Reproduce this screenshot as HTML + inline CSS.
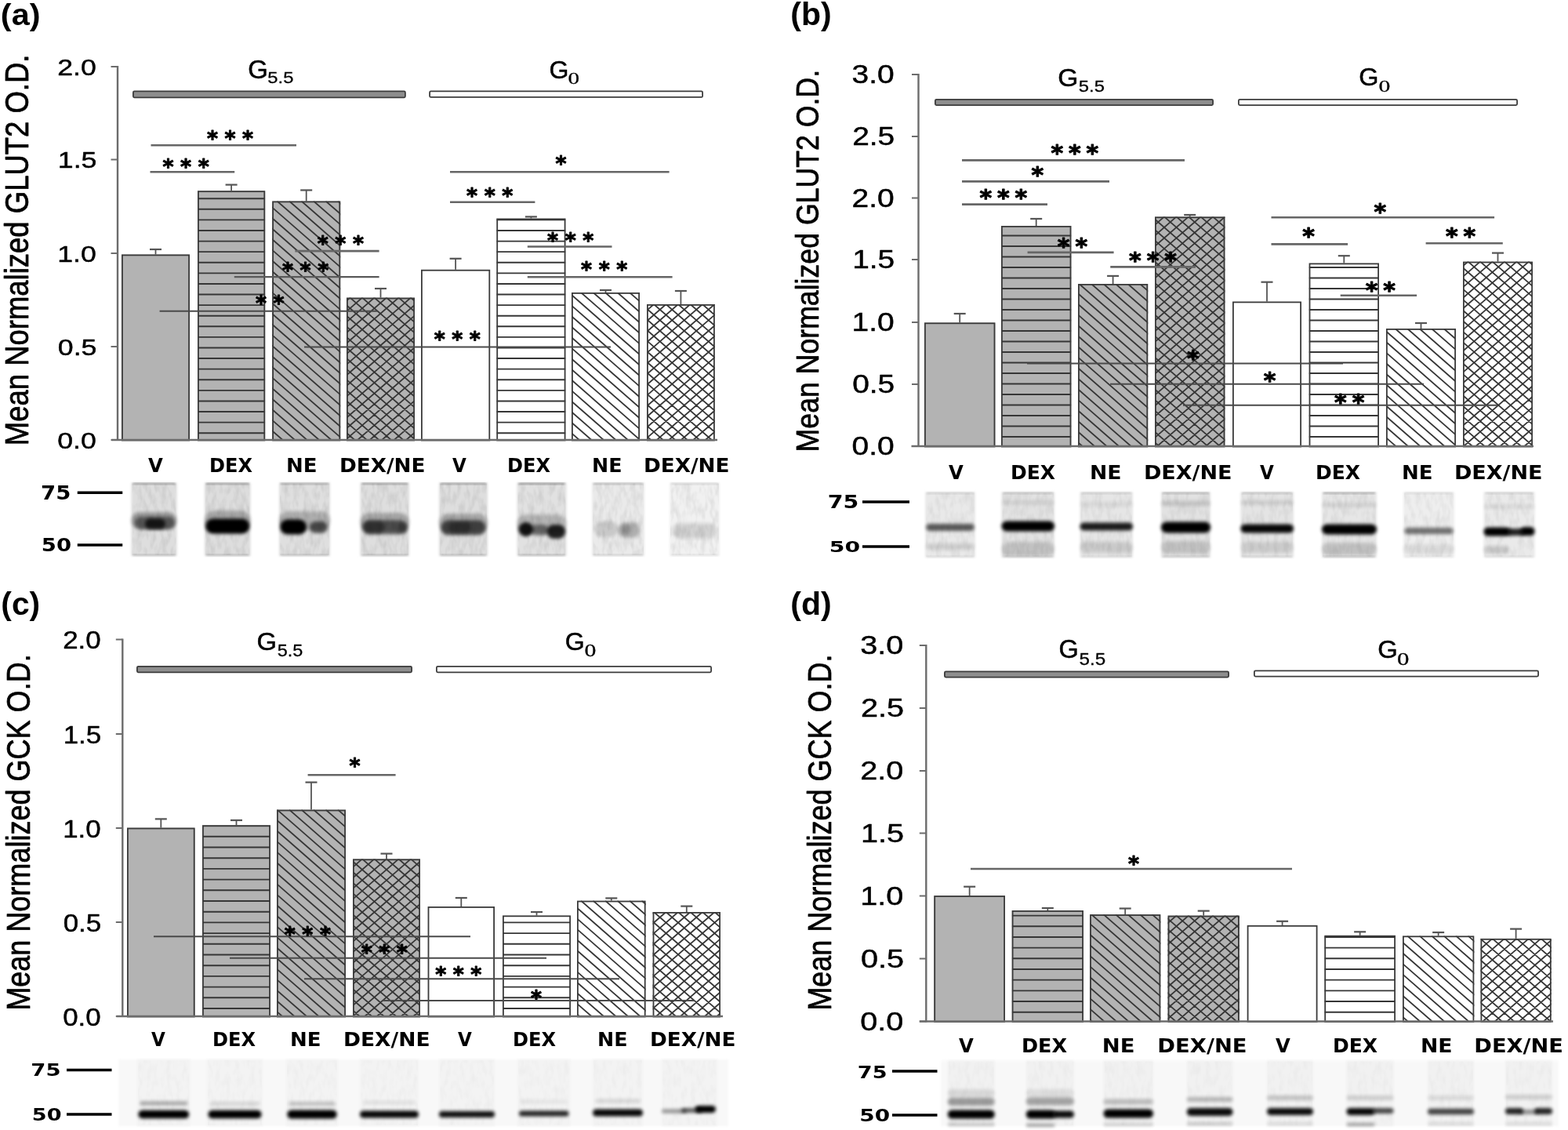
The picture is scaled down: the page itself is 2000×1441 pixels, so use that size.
<!DOCTYPE html>
<html><head><meta charset="utf-8"><title>GLUT2 and GCK expression</title><style>html,body{margin:0;padding:0;background:#fff;overflow:hidden}svg{display:block}</style></head><body>
<svg width="2000" height="1441" viewBox="0 0 2000 1441">
<defs>
<filter id="soft" x="-20%" y="-20%" width="140%" height="140%"><feGaussianBlur stdDeviation="1.6"/></filter>
<filter id="band" x="-50%" y="-100%" width="200%" height="300%"><feGaussianBlur stdDeviation="2.0 2.2"/></filter>
<filter id="noise" x="0" y="0" width="100%" height="100%"><feTurbulence type="fractalNoise" baseFrequency="0.16 0.07" numOctaves="2" seed="3"/><feColorMatrix type="matrix" values="0 0 0 0 0  0 0 0 0 0  0 0 0 0 0  0 0 0 -2.2 1.4"/><feComposite in2="SourceGraphic" operator="in"/></filter>
<clipPath id="c0"><rect x="252.00" y="243.30" width="86.20" height="317.70"/></clipPath>
<clipPath id="c1"><rect x="347.20" y="256.50" width="87.00" height="304.50"/></clipPath>
<clipPath id="c2"><rect x="442.00" y="379.60" width="87.00" height="181.40"/></clipPath>
<clipPath id="c3"><rect x="633.30" y="278.50" width="88.20" height="282.50"/></clipPath>
<clipPath id="c4"><rect x="729.00" y="373.00" width="87.00" height="188.00"/></clipPath>
<clipPath id="c5"><rect x="825.00" y="388.00" width="86.80" height="173.00"/></clipPath>
<clipPath id="c6"><rect x="1277.00" y="288.00" width="89.40" height="281.00"/></clipPath>
<clipPath id="c7"><rect x="1375.00" y="362.00" width="89.20" height="207.00"/></clipPath>
<clipPath id="c8"><rect x="1473.00" y="276.40" width="89.40" height="292.60"/></clipPath>
<clipPath id="c9"><rect x="1669.60" y="335.50" width="89.40" height="233.50"/></clipPath>
<clipPath id="c10"><rect x="1768.00" y="419.00" width="89.00" height="150.00"/></clipPath>
<clipPath id="c11"><rect x="1866.00" y="333.60" width="89.00" height="235.40"/></clipPath>
<clipPath id="c12"><rect x="258.00" y="1052.40" width="87.00" height="243.60"/></clipPath>
<clipPath id="c13"><rect x="353.00" y="1032.60" width="88.00" height="263.40"/></clipPath>
<clipPath id="c14"><rect x="450.00" y="1095.40" width="86.00" height="200.60"/></clipPath>
<clipPath id="c15"><rect x="641.00" y="1167.40" width="87.00" height="128.60"/></clipPath>
<clipPath id="c16"><rect x="736.00" y="1148.60" width="87.60" height="147.40"/></clipPath>
<clipPath id="c17"><rect x="832.60" y="1163.00" width="86.40" height="133.00"/></clipPath>
<clipPath id="c18"><rect x="1290.70" y="1161.00" width="91.30" height="141.50"/></clipPath>
<clipPath id="c19"><rect x="1390.10" y="1166.10" width="90.20" height="136.40"/></clipPath>
<clipPath id="c20"><rect x="1489.60" y="1167.60" width="91.20" height="134.90"/></clipPath>
<clipPath id="c21"><rect x="1689.30" y="1192.80" width="90.70" height="109.70"/></clipPath>
<clipPath id="c22"><rect x="1789.00" y="1193.40" width="91.30" height="109.10"/></clipPath>
<clipPath id="c23"><rect x="1888.50" y="1196.90" width="90.20" height="105.60"/></clipPath>
</defs>
<rect width="2000" height="1441" fill="#fff"/>
<rect x="167.50" y="615.50" width="58.00" height="93.50" fill="#dedede" filter="url(#soft)"/>
<rect x="168.50" y="616.50" width="56.00" height="91.50" fill="#000" opacity="0.07" filter="url(#noise)"/>
<rect x="169.50" y="615.50" width="54.00" height="2.2" fill="#000" opacity="0.35" filter="url(#soft)"/>
<rect x="169.50" y="706.80" width="54.00" height="2" fill="#000" opacity="0.21" filter="url(#soft)"/>
<rect x="167.50" y="653.00" width="58.00" height="22.00" rx="11.00" fill="#000" opacity="0.3" filter="url(#band)"/>
<rect x="172.14" y="659.00" width="50.46" height="16.00" rx="8.00" fill="#000" opacity="0.45" filter="url(#band)"/>
<rect x="184.90" y="661.50" width="26.10" height="13.00" rx="6.50" fill="#000" opacity="0.75" filter="url(#band)"/>
<rect x="261.00" y="615.50" width="58.50" height="93.50" fill="#dddddd" filter="url(#soft)"/>
<rect x="262.00" y="616.50" width="56.50" height="91.50" fill="#000" opacity="0.07" filter="url(#noise)"/>
<rect x="263.00" y="615.50" width="54.50" height="2.2" fill="#000" opacity="0.35" filter="url(#soft)"/>
<rect x="263.00" y="706.80" width="54.50" height="2" fill="#000" opacity="0.21" filter="url(#soft)"/>
<rect x="261.00" y="651.00" width="58.50" height="26.00" rx="13.00" fill="#000" opacity="0.25" filter="url(#band)"/>
<rect x="262.17" y="661.50" width="56.16" height="19.00" rx="9.50" fill="#000" opacity="1.0" filter="url(#band)"/>
<rect x="356.00" y="615.50" width="65.00" height="93.50" fill="#dfdfdf" filter="url(#soft)"/>
<rect x="357.00" y="616.50" width="63.00" height="91.50" fill="#000" opacity="0.07" filter="url(#noise)"/>
<rect x="358.00" y="615.50" width="61.00" height="2.2" fill="#000" opacity="0.3" filter="url(#soft)"/>
<rect x="358.00" y="706.80" width="61.00" height="2" fill="#000" opacity="0.18" filter="url(#soft)"/>
<rect x="356.00" y="652.00" width="65.00" height="24.00" rx="12.00" fill="#000" opacity="0.22" filter="url(#band)"/>
<rect x="357.30" y="662.50" width="33.80" height="19.00" rx="9.50" fill="#000" opacity="1.0" filter="url(#band)"/>
<rect x="395.00" y="665.00" width="22.75" height="15.00" rx="7.50" fill="#000" opacity="0.6" filter="url(#band)"/>
<rect x="459.50" y="615.50" width="62.50" height="93.50" fill="#dedede" filter="url(#soft)"/>
<rect x="460.50" y="616.50" width="60.50" height="91.50" fill="#000" opacity="0.07" filter="url(#noise)"/>
<rect x="461.50" y="615.50" width="58.50" height="2.2" fill="#000" opacity="0.35" filter="url(#soft)"/>
<rect x="461.50" y="706.80" width="58.50" height="2" fill="#000" opacity="0.21" filter="url(#soft)"/>
<rect x="459.50" y="654.00" width="62.50" height="24.00" rx="12.00" fill="#000" opacity="0.25" filter="url(#band)"/>
<rect x="462.00" y="663.50" width="57.50" height="18.00" rx="9.00" fill="#000" opacity="0.55" filter="url(#band)"/>
<rect x="463.25" y="664.00" width="27.50" height="16.00" rx="8.00" fill="#000" opacity="0.35" filter="url(#band)"/>
<rect x="508.25" y="666.00" width="11.25" height="14.00" rx="5.62" fill="#000" opacity="0.25" filter="url(#band)"/>
<rect x="560.00" y="615.50" width="62.00" height="93.50" fill="#dedede" filter="url(#soft)"/>
<rect x="561.00" y="616.50" width="60.00" height="91.50" fill="#000" opacity="0.07" filter="url(#noise)"/>
<rect x="562.00" y="615.50" width="58.00" height="2.2" fill="#000" opacity="0.35" filter="url(#soft)"/>
<rect x="562.00" y="706.80" width="58.00" height="2" fill="#000" opacity="0.21" filter="url(#soft)"/>
<rect x="560.00" y="655.00" width="62.00" height="24.00" rx="12.00" fill="#000" opacity="0.25" filter="url(#band)"/>
<rect x="562.48" y="663.50" width="57.04" height="19.00" rx="9.50" fill="#000" opacity="0.62" filter="url(#band)"/>
<rect x="572.40" y="666.00" width="27.90" height="14.00" rx="7.00" fill="#000" opacity="0.3" filter="url(#band)"/>
<rect x="659.50" y="615.50" width="63.00" height="93.50" fill="#e1e1e1" filter="url(#soft)"/>
<rect x="660.50" y="616.50" width="61.00" height="91.50" fill="#000" opacity="0.07" filter="url(#noise)"/>
<rect x="661.50" y="615.50" width="59.00" height="2.2" fill="#000" opacity="0.4" filter="url(#soft)"/>
<rect x="661.50" y="706.80" width="59.00" height="2" fill="#000" opacity="0.24" filter="url(#soft)"/>
<rect x="659.50" y="656.00" width="63.00" height="24.00" rx="12.00" fill="#000" opacity="0.2" filter="url(#band)"/>
<rect x="661.39" y="666.00" width="18.90" height="18.00" rx="9.00" fill="#000" opacity="0.9" filter="url(#band)"/>
<rect x="677.14" y="669.00" width="22.68" height="14.00" rx="7.00" fill="#000" opacity="0.45" filter="url(#band)"/>
<rect x="697.30" y="669.00" width="23.94" height="18.00" rx="9.00" fill="#000" opacity="0.85" filter="url(#band)"/>
<rect x="755.00" y="615.50" width="67.00" height="93.50" fill="#eaeaea" filter="url(#soft)"/>
<rect x="756.00" y="616.50" width="65.00" height="91.50" fill="#000" opacity="0.07" filter="url(#noise)"/>
<rect x="757.00" y="615.50" width="63.00" height="2.2" fill="#000" opacity="0.25" filter="url(#soft)"/>
<rect x="757.00" y="706.80" width="63.00" height="2" fill="#000" opacity="0.15" filter="url(#soft)"/>
<rect x="758.35" y="665.00" width="30.15" height="20.00" rx="10.00" fill="#000" opacity="0.14" filter="url(#band)"/>
<rect x="788.50" y="666.00" width="28.14" height="20.00" rx="10.00" fill="#000" opacity="0.25" filter="url(#band)"/>
<rect x="791.85" y="669.00" width="13.40" height="12.00" rx="6.00" fill="#000" opacity="0.18" filter="url(#band)"/>
<rect x="854.00" y="615.50" width="64.00" height="93.50" fill="#f1f1f1" filter="url(#soft)"/>
<rect x="855.00" y="616.50" width="62.00" height="91.50" fill="#000" opacity="0.07" filter="url(#noise)"/>
<rect x="856.00" y="615.50" width="60.00" height="2.2" fill="#000" opacity="0.15" filter="url(#soft)"/>
<rect x="856.00" y="706.80" width="60.00" height="2" fill="#000" opacity="0.09" filter="url(#soft)"/>
<rect x="857.20" y="667.00" width="57.60" height="20.00" rx="10.00" fill="#000" opacity="0.12" filter="url(#band)"/>
<rect x="1180.00" y="627.50" width="64.00" height="83.50" fill="#e9e9e9" filter="url(#soft)"/>
<rect x="1181.00" y="628.50" width="62.00" height="81.50" fill="#000" opacity="0.05" filter="url(#noise)"/>
<rect x="1182.00" y="627.50" width="60.00" height="2.2" fill="#000" opacity="0.15" filter="url(#soft)"/>
<rect x="1182.00" y="708.80" width="60.00" height="2" fill="#000" opacity="0.09" filter="url(#soft)"/>
<rect x="1181.28" y="668.00" width="61.44" height="9.00" rx="4.50" fill="#000" opacity="0.62" filter="url(#band)"/>
<rect x="1181.28" y="693.00" width="61.44" height="8.00" rx="4.00" fill="#000" opacity="0.12" filter="url(#band)"/>
<rect x="1277.50" y="627.50" width="67.50" height="83.50" fill="#e2e2e2" filter="url(#soft)"/>
<rect x="1278.50" y="628.50" width="65.50" height="81.50" fill="#000" opacity="0.05" filter="url(#noise)"/>
<rect x="1279.50" y="627.50" width="63.50" height="2.2" fill="#000" opacity="0.2" filter="url(#soft)"/>
<rect x="1279.50" y="708.80" width="63.50" height="2" fill="#000" opacity="0.12" filter="url(#soft)"/>
<rect x="1277.50" y="664.50" width="67.50" height="13.00" rx="6.50" fill="#000" opacity="1.0" filter="url(#band)"/>
<rect x="1277.50" y="691.00" width="67.50" height="18.00" rx="9.00" fill="#000" opacity="0.14" filter="url(#band)"/>
<rect x="1277.50" y="638.00" width="67.50" height="6.00" rx="3.00" fill="#000" opacity="0.07" filter="url(#band)"/>
<rect x="1377.50" y="627.50" width="67.50" height="83.50" fill="#e6e6e6" filter="url(#soft)"/>
<rect x="1378.50" y="628.50" width="65.50" height="81.50" fill="#000" opacity="0.05" filter="url(#noise)"/>
<rect x="1379.50" y="627.50" width="63.50" height="2.2" fill="#000" opacity="0.15" filter="url(#soft)"/>
<rect x="1379.50" y="708.80" width="63.50" height="2" fill="#000" opacity="0.09" filter="url(#soft)"/>
<rect x="1377.50" y="666.50" width="67.50" height="10.00" rx="5.00" fill="#000" opacity="0.88" filter="url(#band)"/>
<rect x="1377.50" y="691.00" width="67.50" height="14.00" rx="7.00" fill="#000" opacity="0.12" filter="url(#band)"/>
<rect x="1377.50" y="640.00" width="67.50" height="6.00" rx="3.00" fill="#000" opacity="0.06" filter="url(#band)"/>
<rect x="1481.00" y="627.50" width="63.00" height="83.50" fill="#e2e2e2" filter="url(#soft)"/>
<rect x="1482.00" y="628.50" width="61.00" height="81.50" fill="#000" opacity="0.05" filter="url(#noise)"/>
<rect x="1483.00" y="627.50" width="59.00" height="2.2" fill="#000" opacity="0.25" filter="url(#soft)"/>
<rect x="1483.00" y="708.80" width="59.00" height="2" fill="#000" opacity="0.15" filter="url(#soft)"/>
<rect x="1481.00" y="665.50" width="63.00" height="14.00" rx="7.00" fill="#000" opacity="1.0" filter="url(#band)"/>
<rect x="1481.00" y="638.50" width="63.00" height="7.00" rx="3.50" fill="#000" opacity="0.13" filter="url(#band)"/>
<rect x="1481.00" y="690.00" width="63.00" height="16.00" rx="8.00" fill="#000" opacity="0.14" filter="url(#band)"/>
<rect x="1582.50" y="627.50" width="67.50" height="83.50" fill="#e4e4e4" filter="url(#soft)"/>
<rect x="1583.50" y="628.50" width="65.50" height="81.50" fill="#000" opacity="0.05" filter="url(#noise)"/>
<rect x="1584.50" y="627.50" width="63.50" height="2.2" fill="#000" opacity="0.2" filter="url(#soft)"/>
<rect x="1584.50" y="708.80" width="63.50" height="2" fill="#000" opacity="0.12" filter="url(#soft)"/>
<rect x="1582.50" y="668.50" width="67.50" height="11.00" rx="5.50" fill="#000" opacity="0.97" filter="url(#band)"/>
<rect x="1582.50" y="638.00" width="67.50" height="6.00" rx="3.00" fill="#000" opacity="0.1" filter="url(#band)"/>
<rect x="1582.50" y="691.00" width="67.50" height="14.00" rx="7.00" fill="#000" opacity="0.1" filter="url(#band)"/>
<rect x="1686.00" y="627.50" width="70.00" height="83.50" fill="#e6e6e6" filter="url(#soft)"/>
<rect x="1687.00" y="628.50" width="68.00" height="81.50" fill="#000" opacity="0.05" filter="url(#noise)"/>
<rect x="1688.00" y="627.50" width="66.00" height="2.2" fill="#000" opacity="0.3" filter="url(#soft)"/>
<rect x="1688.00" y="708.80" width="66.00" height="2" fill="#000" opacity="0.18" filter="url(#soft)"/>
<rect x="1686.00" y="668.50" width="70.00" height="13.00" rx="6.50" fill="#000" opacity="1.0" filter="url(#band)"/>
<rect x="1686.00" y="641.00" width="70.00" height="6.00" rx="3.00" fill="#000" opacity="0.09" filter="url(#band)"/>
<rect x="1686.00" y="692.00" width="70.00" height="16.00" rx="8.00" fill="#000" opacity="0.16" filter="url(#band)"/>
<rect x="1790.00" y="627.50" width="65.00" height="83.50" fill="#eeeeee" filter="url(#soft)"/>
<rect x="1791.00" y="628.50" width="63.00" height="81.50" fill="#000" opacity="0.05" filter="url(#noise)"/>
<rect x="1792.00" y="627.50" width="61.00" height="2.2" fill="#000" opacity="0.1" filter="url(#soft)"/>
<rect x="1792.00" y="708.80" width="61.00" height="2" fill="#000" opacity="0.06" filter="url(#soft)"/>
<rect x="1791.30" y="672.70" width="62.40" height="8.60" rx="4.30" fill="#000" opacity="0.52" filter="url(#band)"/>
<rect x="1790.00" y="694.00" width="65.00" height="12.00" rx="6.00" fill="#000" opacity="0.08" filter="url(#band)"/>
<rect x="1892.50" y="627.50" width="65.00" height="83.50" fill="#eaeaea" filter="url(#soft)"/>
<rect x="1893.50" y="628.50" width="63.00" height="81.50" fill="#000" opacity="0.05" filter="url(#noise)"/>
<rect x="1894.50" y="627.50" width="61.00" height="2.2" fill="#000" opacity="0.15" filter="url(#soft)"/>
<rect x="1894.50" y="708.80" width="61.00" height="2" fill="#000" opacity="0.09" filter="url(#soft)"/>
<rect x="1892.50" y="672.50" width="33.80" height="11.00" rx="5.50" fill="#000" opacity="1.0" filter="url(#band)"/>
<rect x="1921.75" y="674.00" width="22.75" height="9.00" rx="4.50" fill="#000" opacity="0.85" filter="url(#band)"/>
<rect x="1939.30" y="672.00" width="18.20" height="11.00" rx="5.50" fill="#000" opacity="1.0" filter="url(#band)"/>
<rect x="1892.50" y="643.00" width="65.00" height="6.00" rx="3.00" fill="#000" opacity="0.07" filter="url(#band)"/>
<rect x="1892.50" y="696.00" width="32.50" height="10.00" rx="5.00" fill="#000" opacity="0.14" filter="url(#band)"/>
<rect x="151" y="1351" width="778" height="85" fill="#f8f8f8" filter="url(#soft)"/>
<rect x="175.00" y="1351.00" width="67.50" height="85.00" fill="#f3f3f3" filter="url(#soft)"/>
<rect x="176.00" y="1352.00" width="65.50" height="83.00" fill="#000" opacity="0.02" filter="url(#noise)"/>
<rect x="176.35" y="1415.70" width="64.80" height="10.60" rx="5.30" fill="#000" opacity="1.0" filter="url(#band)"/>
<rect x="178.38" y="1404.50" width="60.75" height="5.00" rx="2.50" fill="#000" opacity="0.32" filter="url(#band)"/>
<rect x="264.00" y="1351.00" width="71.00" height="85.00" fill="#f3f3f3" filter="url(#soft)"/>
<rect x="265.00" y="1352.00" width="69.00" height="83.00" fill="#000" opacity="0.02" filter="url(#noise)"/>
<rect x="265.42" y="1415.70" width="68.16" height="10.60" rx="5.30" fill="#000" opacity="1.0" filter="url(#band)"/>
<rect x="267.55" y="1405.00" width="63.90" height="5.00" rx="2.50" fill="#000" opacity="0.12" filter="url(#band)"/>
<rect x="365.00" y="1351.00" width="66.00" height="85.00" fill="#f3f3f3" filter="url(#soft)"/>
<rect x="366.00" y="1352.00" width="64.00" height="83.00" fill="#000" opacity="0.02" filter="url(#noise)"/>
<rect x="366.32" y="1415.50" width="63.36" height="11.00" rx="5.50" fill="#000" opacity="1.0" filter="url(#band)"/>
<rect x="368.30" y="1405.00" width="59.40" height="5.00" rx="2.50" fill="#000" opacity="0.22" filter="url(#band)"/>
<rect x="459.00" y="1351.00" width="75.00" height="85.00" fill="#f3f3f3" filter="url(#soft)"/>
<rect x="460.00" y="1352.00" width="73.00" height="83.00" fill="#000" opacity="0.02" filter="url(#noise)"/>
<rect x="459.00" y="1416.50" width="75.00" height="9.00" rx="4.50" fill="#000" opacity="0.97" filter="url(#band)"/>
<rect x="462.75" y="1403.50" width="67.50" height="5.00" rx="2.50" fill="#000" opacity="0.08" filter="url(#band)"/>
<rect x="560.00" y="1351.00" width="71.00" height="85.00" fill="#f3f3f3" filter="url(#soft)"/>
<rect x="561.00" y="1352.00" width="69.00" height="83.00" fill="#000" opacity="0.02" filter="url(#noise)"/>
<rect x="560.00" y="1417.00" width="71.00" height="8.00" rx="4.00" fill="#000" opacity="0.93" filter="url(#band)"/>
<rect x="660.00" y="1351.00" width="67.50" height="85.00" fill="#f3f3f3" filter="url(#soft)"/>
<rect x="661.00" y="1352.00" width="65.50" height="83.00" fill="#000" opacity="0.02" filter="url(#noise)"/>
<rect x="662.02" y="1416.50" width="63.45" height="7.00" rx="3.50" fill="#000" opacity="0.85" filter="url(#band)"/>
<rect x="663.38" y="1402.50" width="60.75" height="5.00" rx="2.50" fill="#000" opacity="0.06" filter="url(#band)"/>
<rect x="756.00" y="1351.00" width="64.00" height="85.00" fill="#f3f3f3" filter="url(#soft)"/>
<rect x="757.00" y="1352.00" width="62.00" height="83.00" fill="#000" opacity="0.02" filter="url(#noise)"/>
<rect x="756.00" y="1414.50" width="64.00" height="9.00" rx="4.50" fill="#000" opacity="0.97" filter="url(#band)"/>
<rect x="759.20" y="1401.50" width="57.60" height="5.00" rx="2.50" fill="#000" opacity="0.12" filter="url(#band)"/>
<rect x="844.00" y="1351.00" width="71.00" height="85.00" fill="#f3f3f3" filter="url(#soft)"/>
<rect x="845.00" y="1352.00" width="69.00" height="83.00" fill="#000" opacity="0.02" filter="url(#noise)"/>
<rect x="844.00" y="1414.50" width="31.95" height="5.00" rx="2.50" fill="#000" opacity="0.4" filter="url(#band)"/>
<rect x="868.85" y="1413.00" width="26.27" height="6.00" rx="3.00" fill="#000" opacity="0.6" filter="url(#band)"/>
<rect x="886.60" y="1410.00" width="26.27" height="9.00" rx="4.50" fill="#000" opacity="1.0" filter="url(#band)"/>
<rect x="1200" y="1352.5" width="788" height="83.5" fill="#f8f8f8" filter="url(#soft)"/>
<rect x="1208.75" y="1352.50" width="60.00" height="83.50" fill="#f1f1f1" filter="url(#soft)"/>
<rect x="1209.75" y="1353.50" width="58.00" height="81.50" fill="#000" opacity="0.02" filter="url(#noise)"/>
<rect x="1208.75" y="1415.50" width="60.00" height="11.00" rx="5.50" fill="#000" opacity="1.0" filter="url(#band)"/>
<rect x="1208.75" y="1400.00" width="60.00" height="10.00" rx="5.00" fill="#000" opacity="0.36" filter="url(#band)"/>
<rect x="1208.75" y="1432.00" width="60.00" height="4.00" rx="2.00" fill="#000" opacity="0.2" filter="url(#band)"/>
<rect x="1208.75" y="1389.00" width="60.00" height="10.00" rx="5.00" fill="#000" opacity="0.1" filter="url(#band)"/>
<rect x="1308.75" y="1352.50" width="61.25" height="83.50" fill="#f1f1f1" filter="url(#soft)"/>
<rect x="1309.75" y="1353.50" width="59.25" height="81.50" fill="#000" opacity="0.02" filter="url(#noise)"/>
<rect x="1308.75" y="1415.50" width="37.97" height="11.00" rx="5.50" fill="#000" opacity="1.0" filter="url(#band)"/>
<rect x="1342.44" y="1416.50" width="27.56" height="9.00" rx="4.50" fill="#000" opacity="0.95" filter="url(#band)"/>
<rect x="1308.75" y="1399.50" width="61.25" height="10.00" rx="5.00" fill="#000" opacity="0.32" filter="url(#band)"/>
<rect x="1308.75" y="1433.00" width="36.75" height="4.00" rx="2.00" fill="#000" opacity="0.35" filter="url(#band)"/>
<rect x="1308.75" y="1389.00" width="61.25" height="10.00" rx="5.00" fill="#000" opacity="0.08" filter="url(#band)"/>
<rect x="1407.50" y="1352.50" width="63.50" height="83.50" fill="#f1f1f1" filter="url(#soft)"/>
<rect x="1408.50" y="1353.50" width="61.50" height="81.50" fill="#000" opacity="0.02" filter="url(#noise)"/>
<rect x="1407.50" y="1414.50" width="63.50" height="11.00" rx="5.50" fill="#000" opacity="1.0" filter="url(#band)"/>
<rect x="1407.50" y="1401.50" width="63.50" height="7.00" rx="3.50" fill="#000" opacity="0.22" filter="url(#band)"/>
<rect x="1407.50" y="1432.00" width="63.50" height="4.00" rx="2.00" fill="#000" opacity="0.15" filter="url(#band)"/>
<rect x="1513.75" y="1352.50" width="58.75" height="83.50" fill="#f1f1f1" filter="url(#soft)"/>
<rect x="1514.75" y="1353.50" width="56.75" height="81.50" fill="#000" opacity="0.02" filter="url(#noise)"/>
<rect x="1513.75" y="1413.00" width="58.75" height="10.00" rx="5.00" fill="#000" opacity="0.95" filter="url(#band)"/>
<rect x="1513.75" y="1399.00" width="58.75" height="6.00" rx="3.00" fill="#000" opacity="0.25" filter="url(#band)"/>
<rect x="1513.75" y="1431.00" width="58.75" height="4.00" rx="2.00" fill="#000" opacity="0.18" filter="url(#band)"/>
<rect x="1616.00" y="1352.50" width="59.00" height="83.50" fill="#f1f1f1" filter="url(#soft)"/>
<rect x="1617.00" y="1353.50" width="57.00" height="81.50" fill="#000" opacity="0.02" filter="url(#noise)"/>
<rect x="1616.00" y="1413.00" width="59.00" height="9.00" rx="4.50" fill="#000" opacity="0.95" filter="url(#band)"/>
<rect x="1616.00" y="1397.00" width="59.00" height="6.00" rx="3.00" fill="#000" opacity="0.2" filter="url(#band)"/>
<rect x="1616.00" y="1431.00" width="59.00" height="4.00" rx="2.00" fill="#000" opacity="0.1" filter="url(#band)"/>
<rect x="1717.50" y="1352.50" width="60.00" height="83.50" fill="#f1f1f1" filter="url(#soft)"/>
<rect x="1718.50" y="1353.50" width="58.00" height="81.50" fill="#000" opacity="0.02" filter="url(#noise)"/>
<rect x="1717.50" y="1413.00" width="36.00" height="9.00" rx="4.50" fill="#000" opacity="0.97" filter="url(#band)"/>
<rect x="1750.50" y="1413.00" width="27.00" height="7.00" rx="3.50" fill="#000" opacity="0.7" filter="url(#band)"/>
<rect x="1717.50" y="1397.00" width="60.00" height="6.00" rx="3.00" fill="#000" opacity="0.15" filter="url(#band)"/>
<rect x="1717.50" y="1432.00" width="36.00" height="4.00" rx="2.00" fill="#000" opacity="0.35" filter="url(#band)"/>
<rect x="1821.00" y="1352.50" width="59.00" height="83.50" fill="#f1f1f1" filter="url(#soft)"/>
<rect x="1822.00" y="1353.50" width="57.00" height="81.50" fill="#000" opacity="0.02" filter="url(#noise)"/>
<rect x="1821.00" y="1413.70" width="59.00" height="7.60" rx="3.80" fill="#000" opacity="0.72" filter="url(#band)"/>
<rect x="1821.00" y="1397.00" width="59.00" height="6.00" rx="3.00" fill="#000" opacity="0.1" filter="url(#band)"/>
<rect x="1821.00" y="1431.00" width="59.00" height="4.00" rx="2.00" fill="#000" opacity="0.1" filter="url(#band)"/>
<rect x="1920.00" y="1352.50" width="60.00" height="83.50" fill="#f1f1f1" filter="url(#soft)"/>
<rect x="1921.00" y="1353.50" width="58.00" height="81.50" fill="#000" opacity="0.02" filter="url(#noise)"/>
<rect x="1920.00" y="1413.00" width="22.80" height="8.00" rx="4.00" fill="#000" opacity="0.85" filter="url(#band)"/>
<rect x="1938.00" y="1415.00" width="24.00" height="6.00" rx="3.00" fill="#000" opacity="0.4" filter="url(#band)"/>
<rect x="1957.20" y="1413.00" width="22.80" height="8.00" rx="4.00" fill="#000" opacity="0.85" filter="url(#band)"/>
<rect x="1920.00" y="1396.00" width="60.00" height="6.00" rx="3.00" fill="#000" opacity="0.15" filter="url(#band)"/>
<rect x="1920.00" y="1431.00" width="60.00" height="4.00" rx="2.00" fill="#000" opacity="0.1" filter="url(#band)"/>
<rect x="155.00" y="324.50" width="87.00" height="236.50" fill="#b3b3b3"/>
<rect x="155.90" y="325.40" width="85.20" height="236.10" fill="none" stroke="#3a3a3a" stroke-width="1.8"/>
<line x1="198.50" y1="324.50" x2="198.50" y2="318.00" stroke="#555555" stroke-width="1.8" stroke-linecap="butt"/>
<line x1="191.00" y1="318.00" x2="206.00" y2="318.00" stroke="#555555" stroke-width="2.2" stroke-linecap="butt"/>
<rect x="252.00" y="243.30" width="86.20" height="317.70" fill="#b3b3b3"/>
<path clip-path="url(#c0)" d="M252.00 552.20H338.20M252.00 538.61H338.20M252.00 525.02H338.20M252.00 511.43H338.20M252.00 497.84H338.20M252.00 484.25H338.20M252.00 470.66H338.20M252.00 457.07H338.20M252.00 443.48H338.20M252.00 429.89H338.20M252.00 416.30H338.20M252.00 402.71H338.20M252.00 389.12H338.20M252.00 375.53H338.20M252.00 361.94H338.20M252.00 348.35H338.20M252.00 334.76H338.20M252.00 321.17H338.20M252.00 307.58H338.20M252.00 293.99H338.20M252.00 280.40H338.20M252.00 266.81H338.20M252.00 253.22H338.20" stroke="#363636" stroke-width="1.9" fill="none"/>
<rect x="252.90" y="244.20" width="84.40" height="317.30" fill="none" stroke="#3a3a3a" stroke-width="1.8"/>
<line x1="295.10" y1="243.30" x2="295.10" y2="235.60" stroke="#555555" stroke-width="1.8" stroke-linecap="butt"/>
<line x1="287.60" y1="235.60" x2="302.60" y2="235.60" stroke="#555555" stroke-width="2.2" stroke-linecap="butt"/>
<rect x="347.20" y="256.50" width="87.00" height="304.50" fill="#b3b3b3"/>
<path clip-path="url(#c1)" d="M-18.50 256.50L329.50 561.00M-3.00 256.50L345.00 561.00M12.50 256.50L360.50 561.00M28.00 256.50L376.00 561.00M43.50 256.50L391.50 561.00M59.00 256.50L407.00 561.00M74.50 256.50L422.50 561.00M90.00 256.50L438.00 561.00M105.50 256.50L453.50 561.00M121.00 256.50L469.00 561.00M136.50 256.50L484.50 561.00M152.00 256.50L500.00 561.00M167.50 256.50L515.50 561.00M183.00 256.50L531.00 561.00M198.50 256.50L546.50 561.00M214.00 256.50L562.00 561.00M229.50 256.50L577.50 561.00M245.00 256.50L593.00 561.00M260.50 256.50L608.50 561.00M276.00 256.50L624.00 561.00M291.50 256.50L639.50 561.00M307.00 256.50L655.00 561.00M322.50 256.50L670.50 561.00M338.00 256.50L686.00 561.00M353.50 256.50L701.50 561.00M369.00 256.50L717.00 561.00M384.50 256.50L732.50 561.00M400.00 256.50L748.00 561.00M415.50 256.50L763.50 561.00M431.00 256.50L779.00 561.00M446.50 256.50L794.50 561.00" stroke="#363636" stroke-width="1.8" fill="none"/>
<rect x="348.10" y="257.40" width="85.20" height="304.10" fill="none" stroke="#3a3a3a" stroke-width="1.8"/>
<line x1="390.70" y1="256.50" x2="390.70" y2="242.50" stroke="#555555" stroke-width="1.8" stroke-linecap="butt"/>
<line x1="383.20" y1="242.50" x2="398.20" y2="242.50" stroke="#555555" stroke-width="2.2" stroke-linecap="butt"/>
<rect x="442.00" y="379.60" width="87.00" height="181.40" fill="#b3b3b3"/>
<path clip-path="url(#c2)" d="M229.50 379.60L436.81 561.00M245.00 379.60L452.31 561.00M260.50 379.60L467.81 561.00M276.00 379.60L483.31 561.00M291.50 379.60L498.81 561.00M307.00 379.60L514.31 561.00M322.50 379.60L529.81 561.00M338.00 379.60L545.31 561.00M353.50 379.60L560.81 561.00M369.00 379.60L576.31 561.00M384.50 379.60L591.81 561.00M400.00 379.60L607.31 561.00M415.50 379.60L622.81 561.00M431.00 379.60L638.31 561.00M446.50 379.60L653.81 561.00M462.00 379.60L669.31 561.00M477.50 379.60L684.81 561.00M493.00 379.60L700.31 561.00M508.50 379.60L715.81 561.00M524.00 379.60L731.31 561.00M539.50 379.60L746.81 561.00M431.00 379.60L223.69 561.00M446.50 379.60L239.19 561.00M462.00 379.60L254.69 561.00M477.50 379.60L270.19 561.00M493.00 379.60L285.69 561.00M508.50 379.60L301.19 561.00M524.00 379.60L316.69 561.00M539.50 379.60L332.19 561.00M555.00 379.60L347.69 561.00M570.50 379.60L363.19 561.00M586.00 379.60L378.69 561.00M601.50 379.60L394.19 561.00M617.00 379.60L409.69 561.00M632.50 379.60L425.19 561.00M648.00 379.60L440.69 561.00M663.50 379.60L456.19 561.00M679.00 379.60L471.69 561.00M694.50 379.60L487.19 561.00M710.00 379.60L502.69 561.00M725.50 379.60L518.19 561.00M741.00 379.60L533.69 561.00" stroke="#363636" stroke-width="1.8" fill="none"/>
<rect x="442.90" y="380.50" width="85.20" height="181.00" fill="none" stroke="#3a3a3a" stroke-width="1.8"/>
<line x1="485.50" y1="379.60" x2="485.50" y2="368.00" stroke="#555555" stroke-width="1.8" stroke-linecap="butt"/>
<line x1="478.00" y1="368.00" x2="493.00" y2="368.00" stroke="#555555" stroke-width="2.2" stroke-linecap="butt"/>
<rect x="537.00" y="343.80" width="88.20" height="217.20" fill="#ffffff"/>
<rect x="537.90" y="344.70" width="86.40" height="216.80" fill="none" stroke="#3a3a3a" stroke-width="1.8"/>
<line x1="581.10" y1="343.80" x2="581.10" y2="329.80" stroke="#555555" stroke-width="1.8" stroke-linecap="butt"/>
<line x1="573.60" y1="329.80" x2="588.60" y2="329.80" stroke="#555555" stroke-width="2.2" stroke-linecap="butt"/>
<rect x="633.30" y="278.50" width="88.20" height="282.50" fill="#ffffff"/>
<path clip-path="url(#c3)" d="M633.30 552.20H721.50M633.30 538.61H721.50M633.30 525.02H721.50M633.30 511.43H721.50M633.30 497.84H721.50M633.30 484.25H721.50M633.30 470.66H721.50M633.30 457.07H721.50M633.30 443.48H721.50M633.30 429.89H721.50M633.30 416.30H721.50M633.30 402.71H721.50M633.30 389.12H721.50M633.30 375.53H721.50M633.30 361.94H721.50M633.30 348.35H721.50M633.30 334.76H721.50M633.30 321.17H721.50M633.30 307.58H721.50M633.30 293.99H721.50M633.30 280.40H721.50" stroke="#363636" stroke-width="1.9" fill="none"/>
<rect x="634.20" y="279.40" width="86.40" height="282.10" fill="none" stroke="#3a3a3a" stroke-width="1.8"/>
<line x1="677.40" y1="278.50" x2="677.40" y2="276.40" stroke="#555555" stroke-width="1.8" stroke-linecap="butt"/>
<line x1="669.90" y1="276.40" x2="684.90" y2="276.40" stroke="#555555" stroke-width="2.2" stroke-linecap="butt"/>
<rect x="729.00" y="373.00" width="87.00" height="188.00" fill="#ffffff"/>
<path clip-path="url(#c4)" d="M508.50 373.00L723.36 561.00M524.00 373.00L738.86 561.00M539.50 373.00L754.36 561.00M555.00 373.00L769.86 561.00M570.50 373.00L785.36 561.00M586.00 373.00L800.86 561.00M601.50 373.00L816.36 561.00M617.00 373.00L831.86 561.00M632.50 373.00L847.36 561.00M648.00 373.00L862.86 561.00M663.50 373.00L878.36 561.00M679.00 373.00L893.86 561.00M694.50 373.00L909.36 561.00M710.00 373.00L924.86 561.00M725.50 373.00L940.36 561.00M741.00 373.00L955.86 561.00M756.50 373.00L971.36 561.00M772.00 373.00L986.86 561.00M787.50 373.00L1002.36 561.00M803.00 373.00L1017.86 561.00M818.50 373.00L1033.36 561.00" stroke="#363636" stroke-width="1.8" fill="none"/>
<rect x="729.90" y="373.90" width="85.20" height="187.60" fill="none" stroke="#3a3a3a" stroke-width="1.8"/>
<line x1="772.50" y1="373.00" x2="772.50" y2="370.00" stroke="#555555" stroke-width="1.8" stroke-linecap="butt"/>
<line x1="765.00" y1="370.00" x2="780.00" y2="370.00" stroke="#555555" stroke-width="2.2" stroke-linecap="butt"/>
<rect x="825.00" y="388.00" width="86.80" height="173.00" fill="#ffffff"/>
<path clip-path="url(#c5)" d="M617.00 388.00L814.71 561.00M632.50 388.00L830.21 561.00M648.00 388.00L845.71 561.00M663.50 388.00L861.21 561.00M679.00 388.00L876.71 561.00M694.50 388.00L892.21 561.00M710.00 388.00L907.71 561.00M725.50 388.00L923.21 561.00M741.00 388.00L938.71 561.00M756.50 388.00L954.21 561.00M772.00 388.00L969.71 561.00M787.50 388.00L985.21 561.00M803.00 388.00L1000.71 561.00M818.50 388.00L1016.21 561.00M834.00 388.00L1031.71 561.00M849.50 388.00L1047.21 561.00M865.00 388.00L1062.71 561.00M880.50 388.00L1078.21 561.00M896.00 388.00L1093.71 561.00M911.50 388.00L1109.21 561.00M927.00 388.00L1124.71 561.00M818.50 388.00L620.79 561.00M834.00 388.00L636.29 561.00M849.50 388.00L651.79 561.00M865.00 388.00L667.29 561.00M880.50 388.00L682.79 561.00M896.00 388.00L698.29 561.00M911.50 388.00L713.79 561.00M927.00 388.00L729.29 561.00M942.50 388.00L744.79 561.00M958.00 388.00L760.29 561.00M973.50 388.00L775.79 561.00M989.00 388.00L791.29 561.00M1004.50 388.00L806.79 561.00M1020.00 388.00L822.29 561.00M1035.50 388.00L837.79 561.00M1051.00 388.00L853.29 561.00M1066.50 388.00L868.79 561.00M1082.00 388.00L884.29 561.00M1097.50 388.00L899.79 561.00M1113.00 388.00L915.29 561.00" stroke="#363636" stroke-width="1.8" fill="none"/>
<rect x="825.90" y="388.90" width="85.00" height="172.60" fill="none" stroke="#3a3a3a" stroke-width="1.8"/>
<line x1="868.40" y1="388.00" x2="868.40" y2="371.00" stroke="#555555" stroke-width="1.8" stroke-linecap="butt"/>
<line x1="860.90" y1="371.00" x2="875.90" y2="371.00" stroke="#555555" stroke-width="2.2" stroke-linecap="butt"/>
<line x1="150.00" y1="84.00" x2="150.00" y2="562.00" stroke="#6c6c6c" stroke-width="2.4" stroke-linecap="butt"/>
<line x1="141.50" y1="85.00" x2="150.00" y2="85.00" stroke="#6c6c6c" stroke-width="2.0" stroke-linecap="butt"/>
<line x1="141.50" y1="203.50" x2="150.00" y2="203.50" stroke="#6c6c6c" stroke-width="2.0" stroke-linecap="butt"/>
<line x1="141.50" y1="323.00" x2="150.00" y2="323.00" stroke="#6c6c6c" stroke-width="2.0" stroke-linecap="butt"/>
<line x1="141.50" y1="442.00" x2="150.00" y2="442.00" stroke="#6c6c6c" stroke-width="2.0" stroke-linecap="butt"/>
<line x1="141.50" y1="561.00" x2="150.00" y2="561.00" stroke="#6c6c6c" stroke-width="2.0" stroke-linecap="butt"/>
<line x1="142.00" y1="561.00" x2="915.00" y2="561.00" stroke="#6c6c6c" stroke-width="2.4" stroke-linecap="butt"/>
<rect x="169.90" y="116.40" width="347.00" height="7.90" fill="#8e8e8e" stroke="#3c3c3c" stroke-width="1.8" rx="1.5"/>
<rect x="548.10" y="116.40" width="348.00" height="7.50" fill="#ffffff" stroke="#3c3c3c" stroke-width="1.8" rx="1.5"/>
<line x1="192.50" y1="185.20" x2="378.00" y2="185.20" stroke="#666666" stroke-width="2.6" stroke-linecap="butt"/>
<line x1="191.50" y1="219.30" x2="299.20" y2="219.30" stroke="#666666" stroke-width="2.6" stroke-linecap="butt"/>
<line x1="376.40" y1="320.10" x2="483.60" y2="320.10" stroke="#666666" stroke-width="2.6" stroke-linecap="butt"/>
<line x1="298.80" y1="353.20" x2="483.60" y2="353.20" stroke="#5a5a5a" stroke-width="2.3" stroke-linecap="butt"/>
<line x1="203.60" y1="396.70" x2="481.20" y2="396.70" stroke="#4a4a4a" stroke-width="2.0" stroke-linecap="butt"/>
<line x1="388.00" y1="442.50" x2="779.00" y2="442.50" stroke="#4a4a4a" stroke-width="2.0" stroke-linecap="butt"/>
<line x1="574.00" y1="219.30" x2="853.60" y2="219.30" stroke="#666666" stroke-width="2.6" stroke-linecap="butt"/>
<line x1="574.00" y1="257.70" x2="682.40" y2="257.70" stroke="#666666" stroke-width="2.6" stroke-linecap="butt"/>
<line x1="672.80" y1="314.50" x2="780.50" y2="314.50" stroke="#666666" stroke-width="2.6" stroke-linecap="butt"/>
<line x1="672.80" y1="353.20" x2="857.60" y2="353.20" stroke="#666666" stroke-width="2.6" stroke-linecap="butt"/>
<line x1="98.75" y1="628.25" x2="156.25" y2="628.25" stroke="#000" stroke-width="3.6" stroke-linecap="butt"/>
<line x1="98.75" y1="695.00" x2="156.25" y2="695.00" stroke="#000" stroke-width="3.6" stroke-linecap="butt"/>
<rect x="1179.00" y="411.40" width="90.40" height="157.60" fill="#b3b3b3"/>
<rect x="1179.90" y="412.30" width="88.60" height="157.20" fill="none" stroke="#3a3a3a" stroke-width="1.8"/>
<line x1="1224.20" y1="411.40" x2="1224.20" y2="400.00" stroke="#555555" stroke-width="1.8" stroke-linecap="butt"/>
<line x1="1216.70" y1="400.00" x2="1231.70" y2="400.00" stroke="#555555" stroke-width="2.2" stroke-linecap="butt"/>
<rect x="1277.00" y="288.00" width="89.40" height="281.00" fill="#b3b3b3"/>
<path clip-path="url(#c6)" d="M1277.00 557.00H1366.40M1277.00 543.50H1366.40M1277.00 530.00H1366.40M1277.00 516.50H1366.40M1277.00 503.00H1366.40M1277.00 489.50H1366.40M1277.00 476.00H1366.40M1277.00 462.50H1366.40M1277.00 449.00H1366.40M1277.00 435.50H1366.40M1277.00 422.00H1366.40M1277.00 408.50H1366.40M1277.00 395.00H1366.40M1277.00 381.50H1366.40M1277.00 368.00H1366.40M1277.00 354.50H1366.40M1277.00 341.00H1366.40M1277.00 327.50H1366.40M1277.00 314.00H1366.40M1277.00 300.50H1366.40" stroke="#363636" stroke-width="1.9" fill="none"/>
<rect x="1277.90" y="288.90" width="87.60" height="280.60" fill="none" stroke="#3a3a3a" stroke-width="1.8"/>
<line x1="1321.70" y1="288.00" x2="1321.70" y2="279.00" stroke="#555555" stroke-width="1.8" stroke-linecap="butt"/>
<line x1="1314.20" y1="279.00" x2="1329.20" y2="279.00" stroke="#555555" stroke-width="2.2" stroke-linecap="butt"/>
<rect x="1375.00" y="362.00" width="89.20" height="207.00" fill="#b3b3b3"/>
<path clip-path="url(#c7)" d="M1128.50 362.00L1365.07 569.00M1144.00 362.00L1380.57 569.00M1159.50 362.00L1396.07 569.00M1175.00 362.00L1411.57 569.00M1190.50 362.00L1427.07 569.00M1206.00 362.00L1442.57 569.00M1221.50 362.00L1458.07 569.00M1237.00 362.00L1473.57 569.00M1252.50 362.00L1489.07 569.00M1268.00 362.00L1504.57 569.00M1283.50 362.00L1520.07 569.00M1299.00 362.00L1535.57 569.00M1314.50 362.00L1551.07 569.00M1330.00 362.00L1566.57 569.00M1345.50 362.00L1582.07 569.00M1361.00 362.00L1597.57 569.00M1376.50 362.00L1613.07 569.00M1392.00 362.00L1628.57 569.00M1407.50 362.00L1644.07 569.00M1423.00 362.00L1659.57 569.00M1438.50 362.00L1675.07 569.00M1454.00 362.00L1690.57 569.00M1469.50 362.00L1706.07 569.00" stroke="#363636" stroke-width="1.8" fill="none"/>
<rect x="1375.90" y="362.90" width="87.40" height="206.60" fill="none" stroke="#3a3a3a" stroke-width="1.8"/>
<line x1="1419.60" y1="362.00" x2="1419.60" y2="351.90" stroke="#555555" stroke-width="1.8" stroke-linecap="butt"/>
<line x1="1412.10" y1="351.90" x2="1427.10" y2="351.90" stroke="#555555" stroke-width="2.2" stroke-linecap="butt"/>
<rect x="1473.00" y="276.40" width="89.40" height="292.60" fill="#b3b3b3"/>
<path clip-path="url(#c8)" d="M1128.50 276.40L1462.90 569.00M1144.00 276.40L1478.40 569.00M1159.50 276.40L1493.90 569.00M1175.00 276.40L1509.40 569.00M1190.50 276.40L1524.90 569.00M1206.00 276.40L1540.40 569.00M1221.50 276.40L1555.90 569.00M1237.00 276.40L1571.40 569.00M1252.50 276.40L1586.90 569.00M1268.00 276.40L1602.40 569.00M1283.50 276.40L1617.90 569.00M1299.00 276.40L1633.40 569.00M1314.50 276.40L1648.90 569.00M1330.00 276.40L1664.40 569.00M1345.50 276.40L1679.90 569.00M1361.00 276.40L1695.40 569.00M1376.50 276.40L1710.90 569.00M1392.00 276.40L1726.40 569.00M1407.50 276.40L1741.90 569.00M1423.00 276.40L1757.40 569.00M1438.50 276.40L1772.90 569.00M1454.00 276.40L1788.40 569.00M1469.50 276.40L1803.90 569.00M1485.00 276.40L1819.40 569.00M1500.50 276.40L1834.90 569.00M1516.00 276.40L1850.40 569.00M1531.50 276.40L1865.90 569.00M1547.00 276.40L1881.40 569.00M1562.50 276.40L1896.90 569.00M1469.50 276.40L1135.10 569.00M1485.00 276.40L1150.60 569.00M1500.50 276.40L1166.10 569.00M1516.00 276.40L1181.60 569.00M1531.50 276.40L1197.10 569.00M1547.00 276.40L1212.60 569.00M1562.50 276.40L1228.10 569.00M1578.00 276.40L1243.60 569.00M1593.50 276.40L1259.10 569.00M1609.00 276.40L1274.60 569.00M1624.50 276.40L1290.10 569.00M1640.00 276.40L1305.60 569.00M1655.50 276.40L1321.10 569.00M1671.00 276.40L1336.60 569.00M1686.50 276.40L1352.10 569.00M1702.00 276.40L1367.60 569.00M1717.50 276.40L1383.10 569.00M1733.00 276.40L1398.60 569.00M1748.50 276.40L1414.10 569.00M1764.00 276.40L1429.60 569.00M1779.50 276.40L1445.10 569.00M1795.00 276.40L1460.60 569.00M1810.50 276.40L1476.10 569.00M1826.00 276.40L1491.60 569.00M1841.50 276.40L1507.10 569.00M1857.00 276.40L1522.60 569.00M1872.50 276.40L1538.10 569.00M1888.00 276.40L1553.60 569.00M1903.50 276.40L1569.10 569.00" stroke="#363636" stroke-width="1.8" fill="none"/>
<rect x="1473.90" y="277.30" width="87.60" height="292.20" fill="none" stroke="#3a3a3a" stroke-width="1.8"/>
<line x1="1517.70" y1="276.40" x2="1517.70" y2="274.00" stroke="#555555" stroke-width="1.8" stroke-linecap="butt"/>
<line x1="1510.20" y1="274.00" x2="1525.20" y2="274.00" stroke="#555555" stroke-width="2.2" stroke-linecap="butt"/>
<rect x="1572.00" y="384.50" width="88.00" height="184.50" fill="#ffffff"/>
<rect x="1572.90" y="385.40" width="86.20" height="184.10" fill="none" stroke="#3a3a3a" stroke-width="1.8"/>
<line x1="1616.00" y1="384.50" x2="1616.00" y2="359.70" stroke="#555555" stroke-width="1.8" stroke-linecap="butt"/>
<line x1="1608.50" y1="359.70" x2="1623.50" y2="359.70" stroke="#555555" stroke-width="2.2" stroke-linecap="butt"/>
<rect x="1669.60" y="335.50" width="89.40" height="233.50" fill="#ffffff"/>
<path clip-path="url(#c9)" d="M1669.60 557.00H1759.00M1669.60 543.50H1759.00M1669.60 530.00H1759.00M1669.60 516.50H1759.00M1669.60 503.00H1759.00M1669.60 489.50H1759.00M1669.60 476.00H1759.00M1669.60 462.50H1759.00M1669.60 449.00H1759.00M1669.60 435.50H1759.00M1669.60 422.00H1759.00M1669.60 408.50H1759.00M1669.60 395.00H1759.00M1669.60 381.50H1759.00M1669.60 368.00H1759.00M1669.60 354.50H1759.00M1669.60 341.00H1759.00" stroke="#363636" stroke-width="1.9" fill="none"/>
<rect x="1670.50" y="336.40" width="87.60" height="233.10" fill="none" stroke="#3a3a3a" stroke-width="1.8"/>
<line x1="1714.30" y1="335.50" x2="1714.30" y2="326.20" stroke="#555555" stroke-width="1.8" stroke-linecap="butt"/>
<line x1="1706.80" y1="326.20" x2="1721.80" y2="326.20" stroke="#555555" stroke-width="2.2" stroke-linecap="butt"/>
<rect x="1768.00" y="419.00" width="89.00" height="150.00" fill="#ffffff"/>
<path clip-path="url(#c10)" d="M1593.50 419.00L1764.93 569.00M1609.00 419.00L1780.43 569.00M1624.50 419.00L1795.93 569.00M1640.00 419.00L1811.43 569.00M1655.50 419.00L1826.93 569.00M1671.00 419.00L1842.43 569.00M1686.50 419.00L1857.93 569.00M1702.00 419.00L1873.43 569.00M1717.50 419.00L1888.93 569.00M1733.00 419.00L1904.43 569.00M1748.50 419.00L1919.93 569.00M1764.00 419.00L1935.43 569.00M1779.50 419.00L1950.93 569.00M1795.00 419.00L1966.43 569.00M1810.50 419.00L1981.93 569.00M1826.00 419.00L1997.43 569.00M1841.50 419.00L2012.93 569.00M1857.00 419.00L2028.43 569.00" stroke="#363636" stroke-width="1.8" fill="none"/>
<rect x="1768.90" y="419.90" width="87.20" height="149.60" fill="none" stroke="#3a3a3a" stroke-width="1.8"/>
<line x1="1812.50" y1="419.00" x2="1812.50" y2="412.00" stroke="#555555" stroke-width="1.8" stroke-linecap="butt"/>
<line x1="1805.00" y1="412.00" x2="1820.00" y2="412.00" stroke="#555555" stroke-width="2.2" stroke-linecap="butt"/>
<rect x="1866.00" y="333.60" width="89.00" height="235.40" fill="#ffffff"/>
<path clip-path="url(#c11)" d="M1593.50 333.60L1862.53 569.00M1609.00 333.60L1878.03 569.00M1624.50 333.60L1893.53 569.00M1640.00 333.60L1909.03 569.00M1655.50 333.60L1924.53 569.00M1671.00 333.60L1940.03 569.00M1686.50 333.60L1955.53 569.00M1702.00 333.60L1971.03 569.00M1717.50 333.60L1986.53 569.00M1733.00 333.60L2002.03 569.00M1748.50 333.60L2017.53 569.00M1764.00 333.60L2033.03 569.00M1779.50 333.60L2048.53 569.00M1795.00 333.60L2064.03 569.00M1810.50 333.60L2079.53 569.00M1826.00 333.60L2095.03 569.00M1841.50 333.60L2110.53 569.00M1857.00 333.60L2126.03 569.00M1872.50 333.60L2141.53 569.00M1888.00 333.60L2157.03 569.00M1903.50 333.60L2172.53 569.00M1919.00 333.60L2188.03 569.00M1934.50 333.60L2203.53 569.00M1950.00 333.60L2219.03 569.00M1965.50 333.60L2234.53 569.00M1857.00 333.60L1587.97 569.00M1872.50 333.60L1603.47 569.00M1888.00 333.60L1618.97 569.00M1903.50 333.60L1634.47 569.00M1919.00 333.60L1649.97 569.00M1934.50 333.60L1665.47 569.00M1950.00 333.60L1680.97 569.00M1965.50 333.60L1696.47 569.00M1981.00 333.60L1711.97 569.00M1996.50 333.60L1727.47 569.00M2012.00 333.60L1742.97 569.00M2027.50 333.60L1758.47 569.00M2043.00 333.60L1773.97 569.00M2058.50 333.60L1789.47 569.00M2074.00 333.60L1804.97 569.00M2089.50 333.60L1820.47 569.00M2105.00 333.60L1835.97 569.00M2120.50 333.60L1851.47 569.00M2136.00 333.60L1866.97 569.00M2151.50 333.60L1882.47 569.00M2167.00 333.60L1897.97 569.00M2182.50 333.60L1913.47 569.00M2198.00 333.60L1928.97 569.00M2213.50 333.60L1944.47 569.00M2229.00 333.60L1959.97 569.00" stroke="#363636" stroke-width="1.8" fill="none"/>
<rect x="1866.90" y="334.50" width="87.20" height="235.00" fill="none" stroke="#3a3a3a" stroke-width="1.8"/>
<line x1="1910.50" y1="333.60" x2="1910.50" y2="322.60" stroke="#555555" stroke-width="1.8" stroke-linecap="butt"/>
<line x1="1903.00" y1="322.60" x2="1918.00" y2="322.60" stroke="#555555" stroke-width="2.2" stroke-linecap="butt"/>
<line x1="1171.50" y1="94.00" x2="1171.50" y2="570.00" stroke="#6c6c6c" stroke-width="2.4" stroke-linecap="butt"/>
<line x1="1163.00" y1="95.00" x2="1171.50" y2="95.00" stroke="#6c6c6c" stroke-width="2.0" stroke-linecap="butt"/>
<line x1="1163.00" y1="174.00" x2="1171.50" y2="174.00" stroke="#6c6c6c" stroke-width="2.0" stroke-linecap="butt"/>
<line x1="1163.00" y1="252.50" x2="1171.50" y2="252.50" stroke="#6c6c6c" stroke-width="2.0" stroke-linecap="butt"/>
<line x1="1163.00" y1="331.00" x2="1171.50" y2="331.00" stroke="#6c6c6c" stroke-width="2.0" stroke-linecap="butt"/>
<line x1="1163.00" y1="411.00" x2="1171.50" y2="411.00" stroke="#6c6c6c" stroke-width="2.0" stroke-linecap="butt"/>
<line x1="1163.00" y1="490.00" x2="1171.50" y2="490.00" stroke="#6c6c6c" stroke-width="2.0" stroke-linecap="butt"/>
<line x1="1163.00" y1="569.00" x2="1171.50" y2="569.00" stroke="#6c6c6c" stroke-width="2.0" stroke-linecap="butt"/>
<line x1="1162.50" y1="569.00" x2="1956.00" y2="569.00" stroke="#6c6c6c" stroke-width="2.4" stroke-linecap="butt"/>
<rect x="1192.90" y="126.90" width="354.20" height="7.20" fill="#8e8e8e" stroke="#3c3c3c" stroke-width="1.8" rx="1.5"/>
<rect x="1579.90" y="126.90" width="355.20" height="7.20" fill="#ffffff" stroke="#3c3c3c" stroke-width="1.8" rx="1.5"/>
<line x1="1227.00" y1="204.40" x2="1511.00" y2="204.40" stroke="#666666" stroke-width="2.6" stroke-linecap="butt"/>
<line x1="1227.00" y1="231.40" x2="1415.00" y2="231.40" stroke="#666666" stroke-width="2.6" stroke-linecap="butt"/>
<line x1="1227.00" y1="260.60" x2="1336.00" y2="260.60" stroke="#666666" stroke-width="2.6" stroke-linecap="butt"/>
<line x1="1310.60" y1="321.90" x2="1420.60" y2="321.90" stroke="#666666" stroke-width="2.6" stroke-linecap="butt"/>
<line x1="1416.25" y1="340.40" x2="1525.00" y2="340.40" stroke="#666666" stroke-width="2.6" stroke-linecap="butt"/>
<line x1="1621.50" y1="277.20" x2="1906.10" y2="277.20" stroke="#666666" stroke-width="2.6" stroke-linecap="butt"/>
<line x1="1621.50" y1="311.40" x2="1719.10" y2="311.40" stroke="#666666" stroke-width="2.6" stroke-linecap="butt"/>
<line x1="1818.60" y1="310.20" x2="1916.80" y2="310.20" stroke="#666666" stroke-width="2.6" stroke-linecap="butt"/>
<line x1="1709.70" y1="376.70" x2="1807.10" y2="376.70" stroke="#666666" stroke-width="2.6" stroke-linecap="butt"/>
<line x1="1310.00" y1="463.60" x2="1713.00" y2="463.60" stroke="#4a4a4a" stroke-width="2.0" stroke-linecap="butt"/>
<line x1="1416.00" y1="489.80" x2="1816.00" y2="489.80" stroke="#4a4a4a" stroke-width="2.0" stroke-linecap="butt"/>
<line x1="1509.00" y1="516.80" x2="1910.00" y2="516.80" stroke="#4a4a4a" stroke-width="2.0" stroke-linecap="butt"/>
<line x1="1100.00" y1="640.00" x2="1160.00" y2="640.00" stroke="#000" stroke-width="3.6" stroke-linecap="butt"/>
<line x1="1100.00" y1="697.00" x2="1160.00" y2="697.00" stroke="#000" stroke-width="3.6" stroke-linecap="butt"/>
<rect x="162.00" y="1055.60" width="86.60" height="240.40" fill="#b3b3b3"/>
<rect x="162.90" y="1056.50" width="84.80" height="240.00" fill="none" stroke="#3a3a3a" stroke-width="1.8"/>
<line x1="205.30" y1="1055.60" x2="205.30" y2="1044.40" stroke="#555555" stroke-width="1.8" stroke-linecap="butt"/>
<line x1="197.80" y1="1044.40" x2="212.80" y2="1044.40" stroke="#555555" stroke-width="2.2" stroke-linecap="butt"/>
<rect x="258.00" y="1052.40" width="87.00" height="243.60" fill="#b3b3b3"/>
<path clip-path="url(#c12)" d="M258.00 1286.00H345.00M258.00 1272.30H345.00M258.00 1258.60H345.00M258.00 1244.90H345.00M258.00 1231.20H345.00M258.00 1217.50H345.00M258.00 1203.80H345.00M258.00 1190.10H345.00M258.00 1176.40H345.00M258.00 1162.70H345.00M258.00 1149.00H345.00M258.00 1135.30H345.00M258.00 1121.60H345.00M258.00 1107.90H345.00M258.00 1094.20H345.00M258.00 1080.50H345.00M258.00 1066.80H345.00M258.00 1053.10H345.00" stroke="#363636" stroke-width="1.9" fill="none"/>
<rect x="258.90" y="1053.30" width="85.20" height="243.20" fill="none" stroke="#3a3a3a" stroke-width="1.8"/>
<line x1="301.50" y1="1052.40" x2="301.50" y2="1046.00" stroke="#555555" stroke-width="1.8" stroke-linecap="butt"/>
<line x1="294.00" y1="1046.00" x2="309.00" y2="1046.00" stroke="#555555" stroke-width="2.2" stroke-linecap="butt"/>
<rect x="353.00" y="1032.60" width="88.00" height="263.40" fill="#b3b3b3"/>
<path clip-path="url(#c13)" d="M43.50 1032.60L344.53 1296.00M59.00 1032.60L360.03 1296.00M74.50 1032.60L375.53 1296.00M90.00 1032.60L391.03 1296.00M105.50 1032.60L406.53 1296.00M121.00 1032.60L422.03 1296.00M136.50 1032.60L437.53 1296.00M152.00 1032.60L453.03 1296.00M167.50 1032.60L468.53 1296.00M183.00 1032.60L484.03 1296.00M198.50 1032.60L499.53 1296.00M214.00 1032.60L515.03 1296.00M229.50 1032.60L530.53 1296.00M245.00 1032.60L546.03 1296.00M260.50 1032.60L561.53 1296.00M276.00 1032.60L577.03 1296.00M291.50 1032.60L592.53 1296.00M307.00 1032.60L608.03 1296.00M322.50 1032.60L623.53 1296.00M338.00 1032.60L639.03 1296.00M353.50 1032.60L654.53 1296.00M369.00 1032.60L670.03 1296.00M384.50 1032.60L685.53 1296.00M400.00 1032.60L701.03 1296.00M415.50 1032.60L716.53 1296.00M431.00 1032.60L732.03 1296.00M446.50 1032.60L747.53 1296.00" stroke="#363636" stroke-width="1.8" fill="none"/>
<rect x="353.90" y="1033.50" width="86.20" height="263.00" fill="none" stroke="#3a3a3a" stroke-width="1.8"/>
<line x1="397.00" y1="1032.60" x2="397.00" y2="997.60" stroke="#555555" stroke-width="1.8" stroke-linecap="butt"/>
<line x1="389.50" y1="997.60" x2="404.50" y2="997.60" stroke="#555555" stroke-width="2.2" stroke-linecap="butt"/>
<rect x="450.00" y="1095.40" width="86.00" height="200.60" fill="#b3b3b3"/>
<path clip-path="url(#c14)" d="M214.00 1095.40L443.26 1296.00M229.50 1095.40L458.76 1296.00M245.00 1095.40L474.26 1296.00M260.50 1095.40L489.76 1296.00M276.00 1095.40L505.26 1296.00M291.50 1095.40L520.76 1296.00M307.00 1095.40L536.26 1296.00M322.50 1095.40L551.76 1296.00M338.00 1095.40L567.26 1296.00M353.50 1095.40L582.76 1296.00M369.00 1095.40L598.26 1296.00M384.50 1095.40L613.76 1296.00M400.00 1095.40L629.26 1296.00M415.50 1095.40L644.76 1296.00M431.00 1095.40L660.26 1296.00M446.50 1095.40L675.76 1296.00M462.00 1095.40L691.26 1296.00M477.50 1095.40L706.76 1296.00M493.00 1095.40L722.26 1296.00M508.50 1095.40L737.76 1296.00M524.00 1095.40L753.26 1296.00M539.50 1095.40L768.76 1296.00M446.50 1095.40L217.24 1296.00M462.00 1095.40L232.74 1296.00M477.50 1095.40L248.24 1296.00M493.00 1095.40L263.74 1296.00M508.50 1095.40L279.24 1296.00M524.00 1095.40L294.74 1296.00M539.50 1095.40L310.24 1296.00M555.00 1095.40L325.74 1296.00M570.50 1095.40L341.24 1296.00M586.00 1095.40L356.74 1296.00M601.50 1095.40L372.24 1296.00M617.00 1095.40L387.74 1296.00M632.50 1095.40L403.24 1296.00M648.00 1095.40L418.74 1296.00M663.50 1095.40L434.24 1296.00M679.00 1095.40L449.74 1296.00M694.50 1095.40L465.24 1296.00M710.00 1095.40L480.74 1296.00M725.50 1095.40L496.24 1296.00M741.00 1095.40L511.74 1296.00M756.50 1095.40L527.24 1296.00M772.00 1095.40L542.74 1296.00" stroke="#363636" stroke-width="1.8" fill="none"/>
<rect x="450.90" y="1096.30" width="84.20" height="200.20" fill="none" stroke="#3a3a3a" stroke-width="1.8"/>
<line x1="493.00" y1="1095.40" x2="493.00" y2="1088.60" stroke="#555555" stroke-width="1.8" stroke-linecap="butt"/>
<line x1="485.50" y1="1088.60" x2="500.50" y2="1088.60" stroke="#555555" stroke-width="2.2" stroke-linecap="butt"/>
<rect x="545.60" y="1156.00" width="85.40" height="140.00" fill="#ffffff"/>
<rect x="546.50" y="1156.90" width="83.60" height="139.60" fill="none" stroke="#3a3a3a" stroke-width="1.8"/>
<line x1="588.30" y1="1156.00" x2="588.30" y2="1145.00" stroke="#555555" stroke-width="1.8" stroke-linecap="butt"/>
<line x1="580.80" y1="1145.00" x2="595.80" y2="1145.00" stroke="#555555" stroke-width="2.2" stroke-linecap="butt"/>
<rect x="641.00" y="1167.40" width="87.00" height="128.60" fill="#ffffff"/>
<path clip-path="url(#c15)" d="M641.00 1286.00H728.00M641.00 1272.30H728.00M641.00 1258.60H728.00M641.00 1244.90H728.00M641.00 1231.20H728.00M641.00 1217.50H728.00M641.00 1203.80H728.00M641.00 1190.10H728.00M641.00 1176.40H728.00" stroke="#363636" stroke-width="1.9" fill="none"/>
<rect x="641.90" y="1168.30" width="85.20" height="128.20" fill="none" stroke="#3a3a3a" stroke-width="1.8"/>
<line x1="684.50" y1="1167.40" x2="684.50" y2="1163.00" stroke="#555555" stroke-width="1.8" stroke-linecap="butt"/>
<line x1="677.00" y1="1163.00" x2="692.00" y2="1163.00" stroke="#555555" stroke-width="2.2" stroke-linecap="butt"/>
<rect x="736.00" y="1148.60" width="87.60" height="147.40" fill="#ffffff"/>
<path clip-path="url(#c16)" d="M555.00 1148.60L723.46 1296.00M570.50 1148.60L738.96 1296.00M586.00 1148.60L754.46 1296.00M601.50 1148.60L769.96 1296.00M617.00 1148.60L785.46 1296.00M632.50 1148.60L800.96 1296.00M648.00 1148.60L816.46 1296.00M663.50 1148.60L831.96 1296.00M679.00 1148.60L847.46 1296.00M694.50 1148.60L862.96 1296.00M710.00 1148.60L878.46 1296.00M725.50 1148.60L893.96 1296.00M741.00 1148.60L909.46 1296.00M756.50 1148.60L924.96 1296.00M772.00 1148.60L940.46 1296.00M787.50 1148.60L955.96 1296.00M803.00 1148.60L971.46 1296.00M818.50 1148.60L986.96 1296.00M834.00 1148.60L1002.46 1296.00" stroke="#363636" stroke-width="1.8" fill="none"/>
<rect x="736.90" y="1149.50" width="85.80" height="147.00" fill="none" stroke="#3a3a3a" stroke-width="1.8"/>
<line x1="779.80" y1="1148.60" x2="779.80" y2="1145.40" stroke="#555555" stroke-width="1.8" stroke-linecap="butt"/>
<line x1="772.30" y1="1145.40" x2="787.30" y2="1145.40" stroke="#555555" stroke-width="2.2" stroke-linecap="butt"/>
<rect x="832.60" y="1163.00" width="86.40" height="133.00" fill="#ffffff"/>
<path clip-path="url(#c17)" d="M663.50 1163.00L815.50 1296.00M679.00 1163.00L831.00 1296.00M694.50 1163.00L846.50 1296.00M710.00 1163.00L862.00 1296.00M725.50 1163.00L877.50 1296.00M741.00 1163.00L893.00 1296.00M756.50 1163.00L908.50 1296.00M772.00 1163.00L924.00 1296.00M787.50 1163.00L939.50 1296.00M803.00 1163.00L955.00 1296.00M818.50 1163.00L970.50 1296.00M834.00 1163.00L986.00 1296.00M849.50 1163.00L1001.50 1296.00M865.00 1163.00L1017.00 1296.00M880.50 1163.00L1032.50 1296.00M896.00 1163.00L1048.00 1296.00M911.50 1163.00L1063.50 1296.00M927.00 1163.00L1079.00 1296.00M818.50 1163.00L666.50 1296.00M834.00 1163.00L682.00 1296.00M849.50 1163.00L697.50 1296.00M865.00 1163.00L713.00 1296.00M880.50 1163.00L728.50 1296.00M896.00 1163.00L744.00 1296.00M911.50 1163.00L759.50 1296.00M927.00 1163.00L775.00 1296.00M942.50 1163.00L790.50 1296.00M958.00 1163.00L806.00 1296.00M973.50 1163.00L821.50 1296.00M989.00 1163.00L837.00 1296.00M1004.50 1163.00L852.50 1296.00M1020.00 1163.00L868.00 1296.00M1035.50 1163.00L883.50 1296.00M1051.00 1163.00L899.00 1296.00M1066.50 1163.00L914.50 1296.00M1082.00 1163.00L930.00 1296.00" stroke="#363636" stroke-width="1.8" fill="none"/>
<rect x="833.50" y="1163.90" width="84.60" height="132.60" fill="none" stroke="#3a3a3a" stroke-width="1.8"/>
<line x1="875.80" y1="1163.00" x2="875.80" y2="1155.60" stroke="#555555" stroke-width="1.8" stroke-linecap="butt"/>
<line x1="868.30" y1="1155.60" x2="883.30" y2="1155.60" stroke="#555555" stroke-width="2.2" stroke-linecap="butt"/>
<line x1="156.30" y1="814.50" x2="156.30" y2="1297.00" stroke="#6c6c6c" stroke-width="2.4" stroke-linecap="butt"/>
<line x1="147.80" y1="815.50" x2="156.30" y2="815.50" stroke="#6c6c6c" stroke-width="2.0" stroke-linecap="butt"/>
<line x1="147.80" y1="936.00" x2="156.30" y2="936.00" stroke="#6c6c6c" stroke-width="2.0" stroke-linecap="butt"/>
<line x1="147.80" y1="1056.00" x2="156.30" y2="1056.00" stroke="#6c6c6c" stroke-width="2.0" stroke-linecap="butt"/>
<line x1="147.80" y1="1176.00" x2="156.30" y2="1176.00" stroke="#6c6c6c" stroke-width="2.0" stroke-linecap="butt"/>
<line x1="147.80" y1="1296.00" x2="156.30" y2="1296.00" stroke="#6c6c6c" stroke-width="2.0" stroke-linecap="butt"/>
<line x1="148.50" y1="1296.00" x2="922.00" y2="1296.00" stroke="#6c6c6c" stroke-width="2.4" stroke-linecap="butt"/>
<rect x="174.90" y="849.90" width="350.20" height="7.40" fill="#8e8e8e" stroke="#3c3c3c" stroke-width="1.8" rx="1.5"/>
<rect x="556.90" y="849.90" width="350.20" height="7.40" fill="#ffffff" stroke="#3c3c3c" stroke-width="1.8" rx="1.5"/>
<line x1="392.60" y1="988.30" x2="504.60" y2="988.30" stroke="#666666" stroke-width="2.6" stroke-linecap="butt"/>
<line x1="196.00" y1="1194.30" x2="600.00" y2="1194.30" stroke="#4a4a4a" stroke-width="2.0" stroke-linecap="butt"/>
<line x1="293.00" y1="1221.70" x2="697.00" y2="1221.70" stroke="#4a4a4a" stroke-width="2.0" stroke-linecap="butt"/>
<line x1="388.00" y1="1248.20" x2="790.00" y2="1248.20" stroke="#4a4a4a" stroke-width="2.0" stroke-linecap="butt"/>
<line x1="487.00" y1="1276.00" x2="886.00" y2="1276.00" stroke="#4a4a4a" stroke-width="2.0" stroke-linecap="butt"/>
<line x1="85.00" y1="1364.50" x2="142.50" y2="1364.50" stroke="#000" stroke-width="3.6" stroke-linecap="butt"/>
<line x1="85.00" y1="1421.00" x2="142.50" y2="1421.00" stroke="#000" stroke-width="3.6" stroke-linecap="butt"/>
<rect x="1191.30" y="1142.10" width="90.70" height="160.40" fill="#b3b3b3"/>
<rect x="1192.20" y="1143.00" width="88.90" height="160.00" fill="none" stroke="#3a3a3a" stroke-width="1.8"/>
<line x1="1236.65" y1="1142.10" x2="1236.65" y2="1130.70" stroke="#555555" stroke-width="1.8" stroke-linecap="butt"/>
<line x1="1229.15" y1="1130.70" x2="1244.15" y2="1130.70" stroke="#555555" stroke-width="2.2" stroke-linecap="butt"/>
<rect x="1290.70" y="1161.00" width="91.30" height="141.50" fill="#b3b3b3"/>
<path clip-path="url(#c18)" d="M1290.70 1290.70H1382.00M1290.70 1277.02H1382.00M1290.70 1263.34H1382.00M1290.70 1249.66H1382.00M1290.70 1235.98H1382.00M1290.70 1222.30H1382.00M1290.70 1208.62H1382.00M1290.70 1194.94H1382.00M1290.70 1181.26H1382.00M1290.70 1167.58H1382.00" stroke="#363636" stroke-width="1.9" fill="none"/>
<rect x="1291.60" y="1161.90" width="89.50" height="141.10" fill="none" stroke="#3a3a3a" stroke-width="1.8"/>
<line x1="1336.35" y1="1161.00" x2="1336.35" y2="1158.00" stroke="#555555" stroke-width="1.8" stroke-linecap="butt"/>
<line x1="1328.85" y1="1158.00" x2="1343.85" y2="1158.00" stroke="#555555" stroke-width="2.2" stroke-linecap="butt"/>
<rect x="1390.10" y="1166.10" width="90.20" height="136.40" fill="#b3b3b3"/>
<path clip-path="url(#c19)" d="M1221.50 1166.10L1377.39 1302.50M1237.00 1166.10L1392.89 1302.50M1252.50 1166.10L1408.39 1302.50M1268.00 1166.10L1423.89 1302.50M1283.50 1166.10L1439.39 1302.50M1299.00 1166.10L1454.89 1302.50M1314.50 1166.10L1470.39 1302.50M1330.00 1166.10L1485.89 1302.50M1345.50 1166.10L1501.39 1302.50M1361.00 1166.10L1516.89 1302.50M1376.50 1166.10L1532.39 1302.50M1392.00 1166.10L1547.89 1302.50M1407.50 1166.10L1563.39 1302.50M1423.00 1166.10L1578.89 1302.50M1438.50 1166.10L1594.39 1302.50M1454.00 1166.10L1609.89 1302.50M1469.50 1166.10L1625.39 1302.50M1485.00 1166.10L1640.89 1302.50" stroke="#363636" stroke-width="1.8" fill="none"/>
<rect x="1391.00" y="1167.00" width="88.40" height="136.00" fill="none" stroke="#3a3a3a" stroke-width="1.8"/>
<line x1="1435.20" y1="1166.10" x2="1435.20" y2="1158.50" stroke="#555555" stroke-width="1.8" stroke-linecap="butt"/>
<line x1="1427.70" y1="1158.50" x2="1442.70" y2="1158.50" stroke="#555555" stroke-width="2.2" stroke-linecap="butt"/>
<rect x="1489.60" y="1167.60" width="91.20" height="134.90" fill="#b3b3b3"/>
<path clip-path="url(#c20)" d="M1330.00 1167.60L1484.17 1302.50M1345.50 1167.60L1499.67 1302.50M1361.00 1167.60L1515.17 1302.50M1376.50 1167.60L1530.67 1302.50M1392.00 1167.60L1546.17 1302.50M1407.50 1167.60L1561.67 1302.50M1423.00 1167.60L1577.17 1302.50M1438.50 1167.60L1592.67 1302.50M1454.00 1167.60L1608.17 1302.50M1469.50 1167.60L1623.67 1302.50M1485.00 1167.60L1639.17 1302.50M1500.50 1167.60L1654.67 1302.50M1516.00 1167.60L1670.17 1302.50M1531.50 1167.60L1685.67 1302.50M1547.00 1167.60L1701.17 1302.50M1562.50 1167.60L1716.67 1302.50M1578.00 1167.60L1732.17 1302.50M1593.50 1167.60L1747.67 1302.50M1485.00 1167.60L1330.83 1302.50M1500.50 1167.60L1346.33 1302.50M1516.00 1167.60L1361.83 1302.50M1531.50 1167.60L1377.33 1302.50M1547.00 1167.60L1392.83 1302.50M1562.50 1167.60L1408.33 1302.50M1578.00 1167.60L1423.83 1302.50M1593.50 1167.60L1439.33 1302.50M1609.00 1167.60L1454.83 1302.50M1624.50 1167.60L1470.33 1302.50M1640.00 1167.60L1485.83 1302.50M1655.50 1167.60L1501.33 1302.50M1671.00 1167.60L1516.83 1302.50M1686.50 1167.60L1532.33 1302.50M1702.00 1167.60L1547.83 1302.50M1717.50 1167.60L1563.33 1302.50M1733.00 1167.60L1578.83 1302.50M1748.50 1167.60L1594.33 1302.50" stroke="#363636" stroke-width="1.8" fill="none"/>
<rect x="1490.50" y="1168.50" width="89.40" height="134.50" fill="none" stroke="#3a3a3a" stroke-width="1.8"/>
<line x1="1535.20" y1="1167.60" x2="1535.20" y2="1161.60" stroke="#555555" stroke-width="1.8" stroke-linecap="butt"/>
<line x1="1527.70" y1="1161.60" x2="1542.70" y2="1161.60" stroke="#555555" stroke-width="2.2" stroke-linecap="butt"/>
<rect x="1590.70" y="1179.90" width="89.80" height="122.60" fill="#ffffff"/>
<rect x="1591.60" y="1180.80" width="88.00" height="122.20" fill="none" stroke="#3a3a3a" stroke-width="1.8"/>
<line x1="1635.60" y1="1179.90" x2="1635.60" y2="1174.80" stroke="#555555" stroke-width="1.8" stroke-linecap="butt"/>
<line x1="1628.10" y1="1174.80" x2="1643.10" y2="1174.80" stroke="#555555" stroke-width="2.2" stroke-linecap="butt"/>
<rect x="1689.30" y="1192.80" width="90.70" height="109.70" fill="#ffffff"/>
<path clip-path="url(#c21)" d="M1689.30 1290.70H1780.00M1689.30 1277.02H1780.00M1689.30 1263.34H1780.00M1689.30 1249.66H1780.00M1689.30 1235.98H1780.00M1689.30 1222.30H1780.00M1689.30 1208.62H1780.00M1689.30 1194.94H1780.00" stroke="#363636" stroke-width="1.9" fill="none"/>
<rect x="1690.20" y="1193.70" width="88.90" height="109.30" fill="none" stroke="#3a3a3a" stroke-width="1.8"/>
<line x1="1734.65" y1="1192.80" x2="1734.65" y2="1188.30" stroke="#555555" stroke-width="1.8" stroke-linecap="butt"/>
<line x1="1727.15" y1="1188.30" x2="1742.15" y2="1188.30" stroke="#555555" stroke-width="2.2" stroke-linecap="butt"/>
<rect x="1789.00" y="1193.40" width="91.30" height="109.10" fill="#ffffff"/>
<path clip-path="url(#c22)" d="M1655.50 1193.40L1780.19 1302.50M1671.00 1193.40L1795.69 1302.50M1686.50 1193.40L1811.19 1302.50M1702.00 1193.40L1826.69 1302.50M1717.50 1193.40L1842.19 1302.50M1733.00 1193.40L1857.69 1302.50M1748.50 1193.40L1873.19 1302.50M1764.00 1193.40L1888.69 1302.50M1779.50 1193.40L1904.19 1302.50M1795.00 1193.40L1919.69 1302.50M1810.50 1193.40L1935.19 1302.50M1826.00 1193.40L1950.69 1302.50M1841.50 1193.40L1966.19 1302.50M1857.00 1193.40L1981.69 1302.50M1872.50 1193.40L1997.19 1302.50M1888.00 1193.40L2012.69 1302.50" stroke="#363636" stroke-width="1.8" fill="none"/>
<rect x="1789.90" y="1194.30" width="89.50" height="108.70" fill="none" stroke="#3a3a3a" stroke-width="1.8"/>
<line x1="1834.65" y1="1193.40" x2="1834.65" y2="1189.00" stroke="#555555" stroke-width="1.8" stroke-linecap="butt"/>
<line x1="1827.15" y1="1189.00" x2="1842.15" y2="1189.00" stroke="#555555" stroke-width="2.2" stroke-linecap="butt"/>
<rect x="1888.50" y="1196.90" width="90.20" height="105.60" fill="#ffffff"/>
<path clip-path="url(#c23)" d="M1764.00 1196.90L1884.69 1302.50M1779.50 1196.90L1900.19 1302.50M1795.00 1196.90L1915.69 1302.50M1810.50 1196.90L1931.19 1302.50M1826.00 1196.90L1946.69 1302.50M1841.50 1196.90L1962.19 1302.50M1857.00 1196.90L1977.69 1302.50M1872.50 1196.90L1993.19 1302.50M1888.00 1196.90L2008.69 1302.50M1903.50 1196.90L2024.19 1302.50M1919.00 1196.90L2039.69 1302.50M1934.50 1196.90L2055.19 1302.50M1950.00 1196.90L2070.69 1302.50M1965.50 1196.90L2086.19 1302.50M1981.00 1196.90L2101.69 1302.50M1872.50 1196.90L1751.81 1302.50M1888.00 1196.90L1767.31 1302.50M1903.50 1196.90L1782.81 1302.50M1919.00 1196.90L1798.31 1302.50M1934.50 1196.90L1813.81 1302.50M1950.00 1196.90L1829.31 1302.50M1965.50 1196.90L1844.81 1302.50M1981.00 1196.90L1860.31 1302.50M1996.50 1196.90L1875.81 1302.50M2012.00 1196.90L1891.31 1302.50M2027.50 1196.90L1906.81 1302.50M2043.00 1196.90L1922.31 1302.50M2058.50 1196.90L1937.81 1302.50M2074.00 1196.90L1953.31 1302.50M2089.50 1196.90L1968.81 1302.50M2105.00 1196.90L1984.31 1302.50" stroke="#363636" stroke-width="1.8" fill="none"/>
<rect x="1889.40" y="1197.80" width="88.40" height="105.20" fill="none" stroke="#3a3a3a" stroke-width="1.8"/>
<line x1="1933.60" y1="1196.90" x2="1933.60" y2="1184.60" stroke="#555555" stroke-width="1.8" stroke-linecap="butt"/>
<line x1="1926.10" y1="1184.60" x2="1941.10" y2="1184.60" stroke="#555555" stroke-width="2.2" stroke-linecap="butt"/>
<line x1="1181.30" y1="822.00" x2="1181.30" y2="1303.50" stroke="#6c6c6c" stroke-width="2.4" stroke-linecap="butt"/>
<line x1="1172.80" y1="823.00" x2="1181.30" y2="823.00" stroke="#6c6c6c" stroke-width="2.0" stroke-linecap="butt"/>
<line x1="1172.80" y1="903.00" x2="1181.30" y2="903.00" stroke="#6c6c6c" stroke-width="2.0" stroke-linecap="butt"/>
<line x1="1172.80" y1="983.00" x2="1181.30" y2="983.00" stroke="#6c6c6c" stroke-width="2.0" stroke-linecap="butt"/>
<line x1="1172.80" y1="1062.50" x2="1181.30" y2="1062.50" stroke="#6c6c6c" stroke-width="2.0" stroke-linecap="butt"/>
<line x1="1172.80" y1="1142.50" x2="1181.30" y2="1142.50" stroke="#6c6c6c" stroke-width="2.0" stroke-linecap="butt"/>
<line x1="1172.80" y1="1222.50" x2="1181.30" y2="1222.50" stroke="#6c6c6c" stroke-width="2.0" stroke-linecap="butt"/>
<line x1="1172.80" y1="1302.50" x2="1181.30" y2="1302.50" stroke="#6c6c6c" stroke-width="2.0" stroke-linecap="butt"/>
<line x1="1172.80" y1="1302.50" x2="1981.00" y2="1302.50" stroke="#6c6c6c" stroke-width="2.4" stroke-linecap="butt"/>
<rect x="1204.90" y="856.40" width="362.20" height="7.20" fill="#8e8e8e" stroke="#3c3c3c" stroke-width="1.8" rx="1.5"/>
<rect x="1599.90" y="855.40" width="362.20" height="7.20" fill="#ffffff" stroke="#3c3c3c" stroke-width="1.8" rx="1.5"/>
<line x1="1238.00" y1="1108.00" x2="1648.00" y2="1108.00" stroke="#666666" stroke-width="2.6" stroke-linecap="butt"/>
<line x1="1138.00" y1="1366.00" x2="1195.50" y2="1366.00" stroke="#000" stroke-width="3.6" stroke-linecap="butt"/>
<line x1="1138.00" y1="1422.00" x2="1195.50" y2="1422.00" stroke="#000" stroke-width="3.6" stroke-linecap="butt"/>
<text transform="matrix(0.026800 0 0 0.026839 263.88 185.63)" font-family="'DejaVu Sans', sans-serif" font-size="1000" font-weight="bold" letter-spacing="320.33" stroke="#000" stroke-width="36.0" stroke-linejoin="round" fill="#000">***</text>
<text transform="matrix(0.026800 0 0 0.026839 207.48 221.73)" font-family="'DejaVu Sans', sans-serif" font-size="1000" font-weight="bold" letter-spacing="320.33" stroke="#000" stroke-width="36.0" stroke-linejoin="round" fill="#000">***</text>
<text transform="matrix(0.026800 0 0 0.026839 404.78 319.53)" font-family="'DejaVu Sans', sans-serif" font-size="1000" font-weight="bold" letter-spacing="320.33" stroke="#000" stroke-width="36.0" stroke-linejoin="round" fill="#000">***</text>
<text transform="matrix(0.026800 0 0 0.026839 359.98 354.43)" font-family="'DejaVu Sans', sans-serif" font-size="1000" font-weight="bold" letter-spacing="320.33" stroke="#000" stroke-width="36.0" stroke-linejoin="round" fill="#000">***</text>
<text transform="matrix(0.026800 0 0 0.026839 325.98 396.03)" font-family="'DejaVu Sans', sans-serif" font-size="1000" font-weight="bold" letter-spacing="320.33" stroke="#000" stroke-width="36.0" stroke-linejoin="round" fill="#000">**</text>
<text transform="matrix(0.026800 0 0 0.026839 553.68 442.38)" font-family="'DejaVu Sans', sans-serif" font-size="1000" font-weight="bold" letter-spacing="320.33" stroke="#000" stroke-width="36.0" stroke-linejoin="round" fill="#000">***</text>
<text transform="matrix(0.026800 0 0 0.026839 708.48 218.03)" font-family="'DejaVu Sans', sans-serif" font-size="1000" font-weight="bold" letter-spacing="320.33" stroke="#000" stroke-width="36.0" stroke-linejoin="round" fill="#000">*</text>
<text transform="matrix(0.026800 0 0 0.026839 595.08 259.43)" font-family="'DejaVu Sans', sans-serif" font-size="1000" font-weight="bold" letter-spacing="320.33" stroke="#000" stroke-width="36.0" stroke-linejoin="round" fill="#000">***</text>
<text transform="matrix(0.026800 0 0 0.026839 698.08 316.23)" font-family="'DejaVu Sans', sans-serif" font-size="1000" font-weight="bold" letter-spacing="320.33" stroke="#000" stroke-width="36.0" stroke-linejoin="round" fill="#000">***</text>
<text transform="matrix(0.026800 0 0 0.026839 741.08 353.23)" font-family="'DejaVu Sans', sans-serif" font-size="1000" font-weight="bold" letter-spacing="320.33" stroke="#000" stroke-width="36.0" stroke-linejoin="round" fill="#000">***</text>
<text transform="matrix(0.041434 0 0 0.039344 0.86 32.39)" font-family="'Liberation Sans', sans-serif" font-size="1000" font-weight="bold" fill="#000">(a)</text>
<text transform="matrix(0 -0.036497 0.042933 0 35.73 568.25)" font-family="'Liberation Sans', sans-serif" font-size="1000" stroke="#000" stroke-width="17.7" stroke-linejoin="round" fill="#000">Mean Normalized GLUT2 O.D.</text>
<text transform="matrix(0.032914 0 0 0.033391 316.16 100.23)" font-family="'Liberation Sans', sans-serif" font-size="1000" stroke="#000" stroke-width="15.1" stroke-linejoin="round" fill="#000">G</text>
<text transform="matrix(0.023893 0 0 0.019826 341.25 106.44)" font-family="'Liberation Sans', sans-serif" font-size="1000" stroke="#000" stroke-width="13.8" stroke-linejoin="round" fill="#000">5.5</text>
<text transform="matrix(0.032000 0 0 0.032000 700.50 99.50)" font-family="'Liberation Sans', sans-serif" font-size="1000" stroke="#000" stroke-width="15.6" stroke-linejoin="round" fill="#000">G</text>
<text transform="matrix(0.029143 0 0 0.021455 724.59 106.66)" font-family="'Liberation Serif', serif" font-size="1000" stroke="#000" stroke-width="12.0" stroke-linejoin="round" fill="#000">0</text>
<text transform="matrix(0.024320 0 0 0.024647 189.00 602.40)" font-family="'DejaVu Sans', sans-serif" font-size="1000" font-weight="bold" fill="#000">V</text>
<text transform="matrix(0.024083 0 0 0.024647 267.12 602.40)" font-family="'DejaVu Sans', sans-serif" font-size="1000" font-weight="bold" fill="#000">DEX</text>
<text transform="matrix(0.026016 0 0 0.024647 364.97 602.40)" font-family="'DejaVu Sans', sans-serif" font-size="1000" font-weight="bold" fill="#000">NE</text>
<text transform="matrix(0.026282 0 0 0.024647 432.95 602.40)" font-family="'DejaVu Sans', sans-serif" font-size="1000" font-weight="bold" fill="#000">DEX/NE</text>
<text transform="matrix(0.023040 0 0 0.024647 577.00 602.40)" font-family="'DejaVu Sans', sans-serif" font-size="1000" font-weight="bold" fill="#000">V</text>
<text transform="matrix(0.024083 0 0 0.024647 647.12 602.40)" font-family="'DejaVu Sans', sans-serif" font-size="1000" font-weight="bold" fill="#000">DEX</text>
<text transform="matrix(0.025293 0 0 0.024647 755.02 602.40)" font-family="'DejaVu Sans', sans-serif" font-size="1000" font-weight="bold" fill="#000">NE</text>
<text transform="matrix(0.026282 0 0 0.024647 820.95 602.40)" font-family="'DejaVu Sans', sans-serif" font-size="1000" font-weight="bold" fill="#000">DEX/NE</text>
<text transform="matrix(0.027474 0 0 0.025000 52.03 637.11)" font-family="'DejaVu Sans', sans-serif" font-size="1000" font-weight="bold" fill="#000">75</text>
<text transform="matrix(0.027529 0 0 0.023510 52.78 702.63)" font-family="'DejaVu Sans', sans-serif" font-size="1000" font-weight="bold" fill="#000">50</text>
<text transform="matrix(0.030000 0 0 0.028490 1340.43 205.47)" font-family="'DejaVu Sans', sans-serif" font-size="1000" font-weight="bold" letter-spacing="230.38" stroke="#000" stroke-width="36.0" stroke-linejoin="round" fill="#000">***</text>
<text transform="matrix(0.030000 0 0 0.028490 1315.53 232.97)" font-family="'DejaVu Sans', sans-serif" font-size="1000" font-weight="bold" letter-spacing="230.38" stroke="#000" stroke-width="36.0" stroke-linejoin="round" fill="#000">*</text>
<text transform="matrix(0.030000 0 0 0.028490 1249.43 261.97)" font-family="'DejaVu Sans', sans-serif" font-size="1000" font-weight="bold" letter-spacing="230.38" stroke="#000" stroke-width="36.0" stroke-linejoin="round" fill="#000">***</text>
<text transform="matrix(0.030000 0 0 0.028490 1348.83 323.87)" font-family="'DejaVu Sans', sans-serif" font-size="1000" font-weight="bold" letter-spacing="230.38" stroke="#000" stroke-width="36.0" stroke-linejoin="round" fill="#000">**</text>
<text transform="matrix(0.030000 0 0 0.028490 1440.03 341.67)" font-family="'DejaVu Sans', sans-serif" font-size="1000" font-weight="bold" letter-spacing="230.38" stroke="#000" stroke-width="36.0" stroke-linejoin="round" fill="#000">***</text>
<text transform="matrix(0.030000 0 0 0.028490 1752.53 279.77)" font-family="'DejaVu Sans', sans-serif" font-size="1000" font-weight="bold" letter-spacing="230.38" stroke="#000" stroke-width="36.0" stroke-linejoin="round" fill="#000">*</text>
<text transform="matrix(0.030000 0 0 0.028490 1661.33 311.47)" font-family="'DejaVu Sans', sans-serif" font-size="1000" font-weight="bold" letter-spacing="230.38" stroke="#000" stroke-width="36.0" stroke-linejoin="round" fill="#000">*</text>
<text transform="matrix(0.030000 0 0 0.028490 1843.93 311.47)" font-family="'DejaVu Sans', sans-serif" font-size="1000" font-weight="bold" letter-spacing="230.38" stroke="#000" stroke-width="36.0" stroke-linejoin="round" fill="#000">**</text>
<text transform="matrix(0.030000 0 0 0.028490 1741.73 379.97)" font-family="'DejaVu Sans', sans-serif" font-size="1000" font-weight="bold" letter-spacing="230.38" stroke="#000" stroke-width="36.0" stroke-linejoin="round" fill="#000">**</text>
<text transform="matrix(0.030000 0 0 0.028490 1514.03 467.27)" font-family="'DejaVu Sans', sans-serif" font-size="1000" font-weight="bold" letter-spacing="230.38" stroke="#000" stroke-width="36.0" stroke-linejoin="round" fill="#000">*</text>
<text transform="matrix(0.030000 0 0 0.028490 1611.73 494.57)" font-family="'DejaVu Sans', sans-serif" font-size="1000" font-weight="bold" letter-spacing="230.38" stroke="#000" stroke-width="36.0" stroke-linejoin="round" fill="#000">*</text>
<text transform="matrix(0.030000 0 0 0.028490 1702.03 523.27)" font-family="'DejaVu Sans', sans-serif" font-size="1000" font-weight="bold" letter-spacing="230.38" stroke="#000" stroke-width="36.0" stroke-linejoin="round" fill="#000">**</text>
<text transform="matrix(0.041044 0 0 0.040393 1008.33 31.91)" font-family="'Liberation Sans', sans-serif" font-size="1000" font-weight="bold" fill="#000">(b)</text>
<text transform="matrix(0 -0.035668 0.040400 0 1043.97 576.39)" font-family="'Liberation Sans', sans-serif" font-size="1000" stroke="#000" stroke-width="18.4" stroke-linejoin="round" fill="#000">Mean Normalized GLUT2 O.D.</text>
<text transform="matrix(0.033524 0 0 0.032000 1349.18 109.50)" font-family="'Liberation Sans', sans-serif" font-size="1000" stroke="#000" stroke-width="15.3" stroke-linejoin="round" fill="#000">G</text>
<text transform="matrix(0.023893 0 0 0.020522 1375.75 117.43)" font-family="'Liberation Sans', sans-serif" font-size="1000" stroke="#000" stroke-width="13.5" stroke-linejoin="round" fill="#000">5.5</text>
<text transform="matrix(0.032381 0 0 0.031652 1733.23 109.26)" font-family="'Liberation Sans', sans-serif" font-size="1000" stroke="#000" stroke-width="15.6" stroke-linejoin="round" fill="#000">G</text>
<text transform="matrix(0.029714 0 0 0.021818 1758.57 117.16)" font-family="'Liberation Serif', serif" font-size="1000" stroke="#000" stroke-width="11.8" stroke-linejoin="round" fill="#000">0</text>
<text transform="matrix(0.024320 0 0 0.025328 1210.00 611.00)" font-family="'DejaVu Sans', sans-serif" font-size="1000" font-weight="bold" fill="#000">V</text>
<text transform="matrix(0.024992 0 0 0.025328 1289.05 611.00)" font-family="'DejaVu Sans', sans-serif" font-size="1000" font-weight="bold" fill="#000">DEX</text>
<text transform="matrix(0.026738 0 0 0.025328 1389.91 611.00)" font-family="'DejaVu Sans', sans-serif" font-size="1000" font-weight="bold" fill="#000">NE</text>
<text transform="matrix(0.027026 0 0 0.025328 1458.89 611.00)" font-family="'DejaVu Sans', sans-serif" font-size="1000" font-weight="bold" fill="#000">DEX/NE</text>
<text transform="matrix(0.023040 0 0 0.025328 1607.00 611.00)" font-family="'DejaVu Sans', sans-serif" font-size="1000" font-weight="bold" fill="#000">V</text>
<text transform="matrix(0.024992 0 0 0.025328 1678.05 611.00)" font-family="'DejaVu Sans', sans-serif" font-size="1000" font-weight="bold" fill="#000">DEX</text>
<text transform="matrix(0.026016 0 0 0.025328 1787.97 611.00)" font-family="'DejaVu Sans', sans-serif" font-size="1000" font-weight="bold" fill="#000">NE</text>
<text transform="matrix(0.027026 0 0 0.025328 1854.89 611.00)" font-family="'DejaVu Sans', sans-serif" font-size="1000" font-weight="bold" fill="#000">DEX/NE</text>
<text transform="matrix(0.028455 0 0 0.022667 1055.72 647.65)" font-family="'DejaVu Sans', sans-serif" font-size="1000" font-weight="bold" fill="#000">75</text>
<text transform="matrix(0.028304 0 0 0.019918 1057.73 703.69)" font-family="'DejaVu Sans', sans-serif" font-size="1000" font-weight="bold" fill="#000">50</text>
<text transform="matrix(0.026800 0 0 0.026839 445.48 985.53)" font-family="'DejaVu Sans', sans-serif" font-size="1000" font-weight="bold" letter-spacing="320.33" stroke="#000" stroke-width="36.0" stroke-linejoin="round" fill="#000">*</text>
<text transform="matrix(0.026800 0 0 0.026839 362.78 1200.93)" font-family="'DejaVu Sans', sans-serif" font-size="1000" font-weight="bold" letter-spacing="320.33" stroke="#000" stroke-width="36.0" stroke-linejoin="round" fill="#000">***</text>
<text transform="matrix(0.026800 0 0 0.026839 460.68 1224.13)" font-family="'DejaVu Sans', sans-serif" font-size="1000" font-weight="bold" letter-spacing="320.33" stroke="#000" stroke-width="36.0" stroke-linejoin="round" fill="#000">***</text>
<text transform="matrix(0.026800 0 0 0.026839 555.18 1252.43)" font-family="'DejaVu Sans', sans-serif" font-size="1000" font-weight="bold" letter-spacing="320.33" stroke="#000" stroke-width="36.0" stroke-linejoin="round" fill="#000">***</text>
<text transform="matrix(0.026800 0 0 0.026839 676.88 1282.33)" font-family="'DejaVu Sans', sans-serif" font-size="1000" font-weight="bold" letter-spacing="320.33" stroke="#000" stroke-width="36.0" stroke-linejoin="round" fill="#000">*</text>
<text transform="matrix(0.040820 0 0 0.040393 1.34 784.16)" font-family="'Liberation Sans', sans-serif" font-size="1000" font-weight="bold" fill="#000">(c)</text>
<text transform="matrix(0 -0.036043 0.041600 0 37.55 1288.82)" font-family="'Liberation Sans', sans-serif" font-size="1000" stroke="#000" stroke-width="18.1" stroke-linejoin="round" fill="#000">Mean Normalized GCK O.D.</text>
<text transform="matrix(0.032762 0 0 0.032000 327.46 829.25)" font-family="'Liberation Sans', sans-serif" font-size="1000" stroke="#000" stroke-width="15.4" stroke-linejoin="round" fill="#000">G</text>
<text transform="matrix(0.023514 0 0 0.022261 353.77 837.15)" font-family="'Liberation Sans', sans-serif" font-size="1000" stroke="#000" stroke-width="13.1" stroke-linejoin="round" fill="#000">5.5</text>
<text transform="matrix(0.032000 0 0 0.031652 720.75 829.01)" font-family="'Liberation Sans', sans-serif" font-size="1000" stroke="#000" stroke-width="15.7" stroke-linejoin="round" fill="#000">G</text>
<text transform="matrix(0.029714 0 0 0.022545 745.57 837.15)" font-family="'Liberation Serif', serif" font-size="1000" stroke="#000" stroke-width="11.6" stroke-linejoin="round" fill="#000">0</text>
<text transform="matrix(0.023040 0 0 0.025055 193.00 1334.00)" font-family="'DejaVu Sans', sans-serif" font-size="1000" font-weight="bold" fill="#000">V</text>
<text transform="matrix(0.024083 0 0 0.025055 271.12 1334.00)" font-family="'DejaVu Sans', sans-serif" font-size="1000" font-weight="bold" fill="#000">DEX</text>
<text transform="matrix(0.026016 0 0 0.025055 369.97 1334.00)" font-family="'DejaVu Sans', sans-serif" font-size="1000" font-weight="bold" fill="#000">NE</text>
<text transform="matrix(0.026530 0 0 0.025055 437.93 1334.00)" font-family="'DejaVu Sans', sans-serif" font-size="1000" font-weight="bold" fill="#000">DEX/NE</text>
<text transform="matrix(0.023040 0 0 0.025055 584.00 1334.00)" font-family="'DejaVu Sans', sans-serif" font-size="1000" font-weight="bold" fill="#000">V</text>
<text transform="matrix(0.024083 0 0 0.025055 654.12 1334.00)" font-family="'DejaVu Sans', sans-serif" font-size="1000" font-weight="bold" fill="#000">DEX</text>
<text transform="matrix(0.025293 0 0 0.025055 762.02 1334.00)" font-family="'DejaVu Sans', sans-serif" font-size="1000" font-weight="bold" fill="#000">NE</text>
<text transform="matrix(0.026282 0 0 0.025055 828.95 1334.00)" font-family="'DejaVu Sans', sans-serif" font-size="1000" font-weight="bold" fill="#000">DEX/NE</text>
<text transform="matrix(0.027474 0 0 0.022000 39.28 1372.16)" font-family="'DejaVu Sans', sans-serif" font-size="1000" font-weight="bold" fill="#000">75</text>
<text transform="matrix(0.027141 0 0 0.021551 40.80 1428.66)" font-family="'DejaVu Sans', sans-serif" font-size="1000" font-weight="bold" fill="#000">50</text>
<text transform="matrix(0.026800 0 0 0.026839 1438.88 1111.33)" font-family="'DejaVu Sans', sans-serif" font-size="1000" font-weight="bold" letter-spacing="320.33" stroke="#000" stroke-width="36.0" stroke-linejoin="round" fill="#000">*</text>
<text transform="matrix(0.041044 0 0 0.040393 1008.33 784.16)" font-family="'Liberation Sans', sans-serif" font-size="1000" font-weight="bold" fill="#000">(d)</text>
<text transform="matrix(0 -0.036043 0.042800 0 1059.63 1288.82)" font-family="'Liberation Sans', sans-serif" font-size="1000" stroke="#000" stroke-width="17.8" stroke-linejoin="round" fill="#000">Mean Normalized GCK O.D.</text>
<text transform="matrix(0.032381 0 0 0.032348 1350.48 839.49)" font-family="'Liberation Sans', sans-serif" font-size="1000" stroke="#000" stroke-width="15.4" stroke-linejoin="round" fill="#000">G</text>
<text transform="matrix(0.024273 0 0 0.022261 1376.49 847.90)" font-family="'Liberation Sans', sans-serif" font-size="1000" stroke="#000" stroke-width="12.9" stroke-linejoin="round" fill="#000">5.5</text>
<text transform="matrix(0.032762 0 0 0.032000 1757.21 839.25)" font-family="'Liberation Sans', sans-serif" font-size="1000" stroke="#000" stroke-width="15.4" stroke-linejoin="round" fill="#000">G</text>
<text transform="matrix(0.030857 0 0 0.022545 1782.04 847.65)" font-family="'Liberation Serif', serif" font-size="1000" stroke="#000" stroke-width="11.4" stroke-linejoin="round" fill="#000">0</text>
<text transform="matrix(0.024320 0 0 0.024511 1223.00 1342.00)" font-family="'DejaVu Sans', sans-serif" font-size="1000" font-weight="bold" fill="#000">V</text>
<text transform="matrix(0.025447 0 0 0.024511 1303.01 1342.00)" font-family="'DejaVu Sans', sans-serif" font-size="1000" font-weight="bold" fill="#000">DEX</text>
<text transform="matrix(0.027461 0 0 0.024511 1405.85 1342.00)" font-family="'DejaVu Sans', sans-serif" font-size="1000" font-weight="bold" fill="#000">NE</text>
<text transform="matrix(0.027398 0 0 0.024511 1476.36 1342.00)" font-family="'DejaVu Sans', sans-serif" font-size="1000" font-weight="bold" fill="#000">DEX/NE</text>
<text transform="matrix(0.024320 0 0 0.024511 1627.00 1342.00)" font-family="'DejaVu Sans', sans-serif" font-size="1000" font-weight="bold" fill="#000">V</text>
<text transform="matrix(0.024992 0 0 0.024511 1700.05 1342.00)" font-family="'DejaVu Sans', sans-serif" font-size="1000" font-weight="bold" fill="#000">DEX</text>
<text transform="matrix(0.026738 0 0 0.024511 1811.91 1342.00)" font-family="'DejaVu Sans', sans-serif" font-size="1000" font-weight="bold" fill="#000">NE</text>
<text transform="matrix(0.027274 0 0 0.024511 1880.37 1342.00)" font-family="'DejaVu Sans', sans-serif" font-size="1000" font-weight="bold" fill="#000">DEX/NE</text>
<text transform="matrix(0.027082 0 0 0.021667 1093.81 1374.66)" font-family="'DejaVu Sans', sans-serif" font-size="1000" font-weight="bold" fill="#000">75</text>
<text transform="matrix(0.027917 0 0 0.021224 1096.26 1429.67)" font-family="'DejaVu Sans', sans-serif" font-size="1000" font-weight="bold" fill="#000">50</text>
<text transform="matrix(0.035683 0 0 0.029913 73.28 95.78)" font-family="'Liberation Sans', sans-serif" font-size="1000" stroke="#000" stroke-width="15.3" stroke-linejoin="round" fill="#000">2.0</text>
<text transform="matrix(0.035683 0 0 0.029913 73.84 214.28)" font-family="'Liberation Sans', sans-serif" font-size="1000" stroke="#000" stroke-width="15.3" stroke-linejoin="round" fill="#000">1.5</text>
<text transform="matrix(0.035683 0 0 0.029913 73.28 333.78)" font-family="'Liberation Sans', sans-serif" font-size="1000" stroke="#000" stroke-width="15.3" stroke-linejoin="round" fill="#000">1.0</text>
<text transform="matrix(0.035683 0 0 0.029913 73.84 452.78)" font-family="'Liberation Sans', sans-serif" font-size="1000" stroke="#000" stroke-width="15.3" stroke-linejoin="round" fill="#000">0.5</text>
<text transform="matrix(0.035683 0 0 0.029913 73.28 571.78)" font-family="'Liberation Sans', sans-serif" font-size="1000" stroke="#000" stroke-width="15.3" stroke-linejoin="round" fill="#000">0.0</text>
<text transform="matrix(0.038906 0 0 0.032974 1086.58 106.13)" font-family="'Liberation Sans', sans-serif" font-size="1000" stroke="#000" stroke-width="14.0" stroke-linejoin="round" fill="#000">3.0</text>
<text transform="matrix(0.038906 0 0 0.032974 1087.19 185.13)" font-family="'Liberation Sans', sans-serif" font-size="1000" stroke="#000" stroke-width="14.0" stroke-linejoin="round" fill="#000">2.5</text>
<text transform="matrix(0.038906 0 0 0.032974 1086.58 263.63)" font-family="'Liberation Sans', sans-serif" font-size="1000" stroke="#000" stroke-width="14.0" stroke-linejoin="round" fill="#000">2.0</text>
<text transform="matrix(0.038906 0 0 0.032974 1087.19 342.13)" font-family="'Liberation Sans', sans-serif" font-size="1000" stroke="#000" stroke-width="14.0" stroke-linejoin="round" fill="#000">1.5</text>
<text transform="matrix(0.038906 0 0 0.032974 1086.58 422.13)" font-family="'Liberation Sans', sans-serif" font-size="1000" stroke="#000" stroke-width="14.0" stroke-linejoin="round" fill="#000">1.0</text>
<text transform="matrix(0.038906 0 0 0.032974 1087.19 501.13)" font-family="'Liberation Sans', sans-serif" font-size="1000" stroke="#000" stroke-width="14.0" stroke-linejoin="round" fill="#000">0.5</text>
<text transform="matrix(0.038906 0 0 0.032974 1086.58 580.13)" font-family="'Liberation Sans', sans-serif" font-size="1000" stroke="#000" stroke-width="14.0" stroke-linejoin="round" fill="#000">0.0</text>
<text transform="matrix(0.034892 0 0 0.031165 80.16 827.41)" font-family="'Liberation Sans', sans-serif" font-size="1000" stroke="#000" stroke-width="15.2" stroke-linejoin="round" fill="#000">2.0</text>
<text transform="matrix(0.034892 0 0 0.031165 80.71 947.91)" font-family="'Liberation Sans', sans-serif" font-size="1000" stroke="#000" stroke-width="15.2" stroke-linejoin="round" fill="#000">1.5</text>
<text transform="matrix(0.034892 0 0 0.031165 80.16 1067.91)" font-family="'Liberation Sans', sans-serif" font-size="1000" stroke="#000" stroke-width="15.2" stroke-linejoin="round" fill="#000">1.0</text>
<text transform="matrix(0.034892 0 0 0.031165 80.71 1187.91)" font-family="'Liberation Sans', sans-serif" font-size="1000" stroke="#000" stroke-width="15.2" stroke-linejoin="round" fill="#000">0.5</text>
<text transform="matrix(0.034892 0 0 0.031165 80.16 1307.91)" font-family="'Liberation Sans', sans-serif" font-size="1000" stroke="#000" stroke-width="15.2" stroke-linejoin="round" fill="#000">0.0</text>
<text transform="matrix(0.039656 0 0 0.033809 1097.26 834.02)" font-family="'Liberation Sans', sans-serif" font-size="1000" stroke="#000" stroke-width="13.7" stroke-linejoin="round" fill="#000">3.0</text>
<text transform="matrix(0.039656 0 0 0.033809 1097.88 914.02)" font-family="'Liberation Sans', sans-serif" font-size="1000" stroke="#000" stroke-width="13.7" stroke-linejoin="round" fill="#000">2.5</text>
<text transform="matrix(0.039656 0 0 0.033809 1097.26 994.02)" font-family="'Liberation Sans', sans-serif" font-size="1000" stroke="#000" stroke-width="13.7" stroke-linejoin="round" fill="#000">2.0</text>
<text transform="matrix(0.039656 0 0 0.033809 1097.88 1073.52)" font-family="'Liberation Sans', sans-serif" font-size="1000" stroke="#000" stroke-width="13.7" stroke-linejoin="round" fill="#000">1.5</text>
<text transform="matrix(0.039656 0 0 0.033809 1097.26 1153.52)" font-family="'Liberation Sans', sans-serif" font-size="1000" stroke="#000" stroke-width="13.7" stroke-linejoin="round" fill="#000">1.0</text>
<text transform="matrix(0.039656 0 0 0.033809 1097.88 1233.52)" font-family="'Liberation Sans', sans-serif" font-size="1000" stroke="#000" stroke-width="13.7" stroke-linejoin="round" fill="#000">0.5</text>
<text transform="matrix(0.039656 0 0 0.033809 1097.26 1313.52)" font-family="'Liberation Sans', sans-serif" font-size="1000" stroke="#000" stroke-width="13.7" stroke-linejoin="round" fill="#000">0.0</text>
</svg>
</body></html>
